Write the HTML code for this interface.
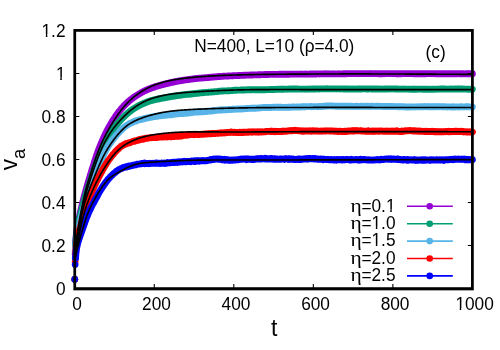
<!DOCTYPE html>
<html><head><meta charset="utf-8"><title>plot</title>
<style>html,body{margin:0;padding:0;background:#fff}svg{display:block}text{font-family:"Liberation Sans",sans-serif;fill:#000}</style>
</head><body>
<svg width="500" height="350" viewBox="0 0 500 350">
<rect width="500" height="350" fill="#fff"/>
<g><path d="M74.75,279.35 L75.15,252.02 L75.55,243.58" fill="none" stroke="#9400d3" stroke-width="1.6"/><circle cx="74.75" cy="279.35" r="3.35" fill="#9400d3"/><circle cx="75.15" cy="252.02" r="3.35" fill="#9400d3"/><circle cx="75.55" cy="243.58" r="3.35" fill="#9400d3"/><path d="M75.55,243.58 L75.94,238.52 L76.34,234.56 L76.74,231.43 L77.14,228.75 L77.53,226.35 L77.93,224.21 L78.33,222.14 L78.73,220.07 L79.12,218.11 L79.52,216.22 L79.92,214.41 L80.32,212.60 L80.71,210.83 L81.11,209.16 L81.51,207.45 L81.91,205.82 L82.31,204.17 L82.70,202.57 L83.10,200.94 L83.50,199.40 L83.90,197.83 L84.29,196.32 L84.69,194.83 L85.09,193.42 L85.49,191.92 L85.88,190.47 L86.28,189.05 L86.68,187.69 L87.08,186.28 L87.47,184.91 L87.87,183.55 L88.27,182.16 L88.67,180.86 L89.07,179.52 L89.46,178.16 L89.86,176.88 L90.26,175.56 L90.66,174.24 L91.05,172.93 L91.45,171.66 L91.85,170.32 L92.25,168.99 L92.64,167.77 L93.04,166.43 L93.44,165.17 L93.84,163.92 L94.23,162.59 L94.63,161.38 L95.03,160.20 L95.43,158.95 L95.83,157.73 L96.22,156.56 L96.62,155.38 L97.02,154.24 L97.42,153.09 L97.81,151.96 L98.21,150.92 L98.61,149.83 L99.01,148.79 L99.40,147.74 L99.80,146.75 L100.20,145.73 L100.60,144.74 L100.99,143.75 L101.39,142.79 L101.79,141.92 L102.19,140.99 L102.59,140.06 L102.98,139.23 L103.38,138.31 L103.78,137.44 L104.18,136.56 L104.57,135.73 L104.97,134.92 L105.37,134.10 L105.77,133.30 L106.16,132.45 L106.56,131.71 L106.96,130.93 L107.36,130.16 L107.75,129.41 L108.15,128.67 L108.55,127.95 L108.95,127.20 L109.35,126.49 L109.74,125.74 L110.14,125.05 L110.54,124.37 L110.94,123.68 L111.33,123.03 L111.73,122.33 L112.13,121.70 L112.53,121.04 L112.92,120.44 L113.32,119.77 L113.72,119.21 L114.12,118.60 L114.52,117.95 L114.91,117.37 L115.31,116.76 L115.71,116.13 L116.11,115.63 L116.50,115.06 L116.90,114.48 L117.30,113.93 L117.70,113.40 L118.09,112.87 L118.49,112.32 L118.89,111.81 L119.29,111.34 L119.68,110.81 L120.08,110.32 L120.48,109.85 L120.88,109.34 L121.28,108.89 L121.67,108.38 L122.07,107.94 L122.47,107.49 L122.87,107.06 L123.26,106.61 L123.66,106.23 L124.06,105.79 L124.46,105.33 L124.85,104.98 L125.25,104.51 L125.65,104.18 L126.05,103.74 L126.44,103.40 L126.84,102.99 L127.24,102.63 L127.64,102.31 L128.04,101.89 L128.43,101.53 L128.83,101.23 L129.23,100.90 L129.63,100.57 L130.02,100.26 L130.42,99.89 L130.82,99.62 L131.22,99.30 L131.61,99.01 L132.01,98.70 L132.41,98.42 L132.81,98.06 L133.20,97.81 L133.60,97.49 L134.00,97.23 L134.40,96.97 L134.80,96.68 L135.19,96.41 L135.59,96.12 L135.99,95.86 L136.39,95.60 L136.78,95.36 L137.18,95.09 L137.58,94.77 L137.98,94.58 L138.37,94.34 L138.77,94.06 L139.17,93.79 L139.57,93.62 L139.96,93.36 L140.36,93.13 L140.76,92.93 L141.16,92.64 L141.56,92.44 L141.95,92.22 L142.35,92.03 L142.75,91.79 L143.15,91.61 L143.54,91.40 L143.94,91.22 L144.34,91.03 L144.74,90.78 L145.13,90.64 L145.53,90.44 L145.93,90.27 L146.33,90.10 L146.72,89.93 L147.12,89.74 L147.52,89.59 L147.92,89.42 L148.32,89.25 L148.71,89.07 L149.11,88.92 L149.51,88.78 L149.91,88.65 L150.30,88.52 L150.70,88.31 L151.10,88.16 L151.50,88.04 L151.89,87.88 L152.29,87.73 L152.69,87.59 L153.09,87.45 L153.48,87.34 L153.88,87.16 L154.28,87.09 L154.68,86.90 L155.08,86.78 L155.47,86.64 L155.87,86.48 L156.27,86.36 L156.67,86.29 L157.06,86.18 L157.46,86.00 L157.86,85.93 L158.26,85.78 L158.65,85.65 L159.05,85.59 L159.45,85.49 L159.85,85.32 L160.24,85.22 L160.64,85.11 L161.04,84.99 L161.44,84.91 L161.84,84.82 L162.23,84.68 L162.63,84.60 L163.03,84.52 L163.43,84.37 L163.82,84.29 L164.22,84.19 L164.62,84.12 L165.02,84.02 L165.41,83.94 L165.81,83.84 L166.21,83.72 L166.61,83.65 L167.00,83.53 L167.40,83.44 L167.80,83.30 L168.20,83.29 L168.60,83.14 L168.99,83.07 L169.39,82.97 L169.79,82.92 L170.19,82.80 L170.58,82.68 L170.98,82.61 L171.38,82.51 L171.78,82.43 L172.17,82.31 L172.57,82.24 L172.97,82.21 L173.37,82.09 L173.76,82.03 L174.16,81.97 L174.56,81.82 L174.96,81.70 L175.36,81.64 L175.75,81.60 L176.15,81.51 L176.55,81.38 L176.95,81.33 L177.34,81.25 L177.74,81.18 L178.14,81.11 L178.54,81.02 L178.93,80.95 L179.33,80.89 L179.73,80.85 L180.13,80.75 L180.52,80.71 L180.92,80.60 L181.32,80.59 L181.72,80.50 L182.12,80.43 L182.51,80.41 L182.91,80.27 L183.31,80.21 L183.71,80.20 L184.10,80.11 L184.50,80.06 L184.90,80.08 L185.30,79.96 L185.69,79.91 L186.09,79.84 L186.49,79.82 L186.89,79.75 L187.28,79.69 L187.68,79.60 L188.08,79.57 L188.48,79.52 L188.88,79.44 L189.27,79.44 L189.67,79.37 L190.07,79.35 L190.47,79.22 L190.86,79.18 L191.26,79.13 L191.66,79.08 L192.06,79.04 L192.45,78.99 L192.85,78.95 L193.25,78.89 L193.65,78.83 L194.05,78.74 L194.44,78.72 L194.84,78.68 L195.24,78.64 L195.64,78.60 L196.03,78.49 L196.43,78.47 L196.83,78.44 L197.23,78.41 L197.62,78.39 L198.02,78.33 L198.42,78.27 L198.82,78.26 L199.21,78.22 L199.61,78.19 L200.01,78.15 L200.41,78.16 L200.81,78.09 L201.20,78.08 L201.60,78.00 L202.00,78.01 L202.40,77.95 L202.79,77.90 L203.19,77.91 L203.59,77.89 L203.99,77.84 L204.38,77.82 L204.78,77.81 L205.18,77.74 L205.58,77.66 L205.97,77.69 L206.37,77.65 L206.77,77.64 L207.17,77.57 L207.57,77.57 L207.96,77.53 L208.36,77.43 L208.76,77.45 L209.16,77.37 L209.55,77.32 L209.95,77.32 L210.35,77.27 L210.75,77.20 L211.14,77.22 L211.54,77.19 L211.94,77.17 L212.34,77.10 L212.73,77.03 L213.13,77.01 L213.53,77.02 L213.93,76.99 L214.33,76.94 L214.72,76.89 L215.12,76.87 L215.52,76.83 L215.92,76.79 L216.31,76.77 L216.71,76.72 L217.11,76.68 L217.51,76.65 L217.90,76.61 L218.30,76.54 L218.70,76.54 L219.10,76.52 L219.49,76.53 L219.89,76.45 L220.29,76.48 L220.69,76.44 L221.09,76.35 L221.48,76.33 L221.88,76.32 L222.28,76.34 L222.68,76.28 L223.07,76.26 L223.47,76.21 L223.87,76.15 L224.27,76.18 L224.66,76.18 L225.06,76.17 L225.46,76.12 L225.86,76.11 L226.25,76.11 L226.65,76.07 L227.05,76.08 L227.45,76.00 L227.85,75.98 L228.24,75.96 L228.64,75.98 L229.04,75.93 L229.44,75.93 L229.83,75.91 L230.23,75.88 L230.63,75.89 L231.03,75.87 L231.42,75.80 L231.82,75.80 L232.22,75.78 L232.62,75.74 L233.01,75.79 L233.41,75.75 L233.81,75.70 L234.21,75.68 L234.61,75.67 L235.00,75.62 L235.40,75.62 L235.80,75.64 L236.20,75.62 L236.59,75.56 L236.99,75.55 L237.39,75.60 L237.79,75.50 L238.18,75.50 L238.58,75.47 L238.98,75.50 L239.38,75.49 L239.77,75.49 L240.17,75.38 L240.57,75.43 L240.97,75.37 L241.37,75.41 L241.76,75.37 L242.16,75.40 L242.56,75.35 L242.96,75.30 L243.35,75.34 L243.75,75.26 L244.15,75.26 L244.55,75.27 L244.94,75.24 L245.34,75.22 L245.74,75.19 L246.14,75.19 L246.53,75.18 L246.93,75.15 L247.33,75.15 L247.73,75.14 L248.13,75.09 L248.52,75.05 L248.92,75.10 L249.32,75.05 L249.72,75.05 L250.11,75.04 L250.51,74.99 L250.91,75.01 L251.31,74.95 L251.70,75.00 L252.10,74.96 L252.50,74.96 L252.90,74.96 L253.29,74.92 L253.69,74.93 L254.09,74.90 L254.49,74.90 L254.89,74.92 L255.28,74.88 L255.68,74.86 L256.08,74.83 L256.48,74.87 L256.87,74.83 L257.27,74.86 L257.67,74.79 L258.07,74.82 L258.46,74.82 L258.86,74.76 L259.26,74.72 L259.66,74.77 L260.05,74.75 L260.45,74.73 L260.85,74.72 L261.25,74.67 L261.65,74.68 L262.04,74.66 L262.44,74.61 L262.84,74.63 L263.24,74.58 L263.63,74.60 L264.03,74.59 L264.43,74.59 L264.83,74.49 L265.22,74.53 L265.62,74.50 L266.02,74.49 L266.42,74.48 L266.81,74.47 L267.21,74.41 L267.61,74.47 L268.01,74.47 L268.41,74.45 L268.80,74.45 L269.20,74.39 L269.60,74.38 L270.00,74.42 L270.39,74.42 L270.79,74.39 L271.19,74.34 L271.59,74.44 L271.98,74.35 L272.38,74.39 L272.78,74.33 L273.18,74.38 L273.57,74.35 L273.97,74.38 L274.37,74.36 L274.77,74.30 L275.17,74.31 L275.56,74.33 L275.96,74.34 L276.36,74.36 L276.76,74.32 L277.15,74.30 L277.55,74.30 L277.95,74.30 L278.35,74.32 L278.74,74.29 L279.14,74.29 L279.54,74.25 L279.94,74.23 L280.34,74.28 L280.73,74.29 L281.13,74.27 L281.53,74.28 L281.93,74.28 L282.32,74.26 L282.72,74.29 L283.12,74.25 L283.52,74.26 L283.91,74.25 L284.31,74.26 L284.71,74.27 L285.11,74.27 L285.50,74.25 L285.90,74.25 L286.30,74.23 L286.70,74.23 L287.10,74.25 L287.49,74.21 L287.89,74.24 L288.29,74.21 L288.69,74.20 L289.08,74.24 L289.48,74.18 L289.88,74.17 L290.28,74.17 L290.67,74.17 L291.07,74.16 L291.47,74.17 L291.87,74.15 L292.26,74.15 L292.66,74.13 L293.06,74.15 L293.46,74.11 L293.86,74.11 L294.25,74.11 L294.65,74.11 L295.05,74.08 L295.45,74.13 L295.84,74.08 L296.24,74.08 L296.64,74.08 L297.04,74.08 L297.43,74.10 L297.83,74.09 L298.23,74.06 L298.63,74.07 L299.02,74.07 L299.42,74.11 L299.82,74.06 L300.22,74.04 L300.62,74.05 L301.01,74.07 L301.41,74.11 L301.81,74.05 L302.21,74.08 L302.60,74.13 L303.00,74.06 L303.40,74.11 L303.80,74.11 L304.19,74.09 L304.59,74.05 L304.99,74.09 L305.39,74.07 L305.78,74.03 L306.18,74.04 L306.58,74.08 L306.98,74.08 L307.38,74.10 L307.77,74.09 L308.17,74.06 L308.57,74.06 L308.97,74.06 L309.36,74.04 L309.76,74.08 L310.16,74.06 L310.56,74.03 L310.95,74.03 L311.35,74.01 L311.75,74.02 L312.15,74.03 L312.54,74.01 L312.94,74.04 L313.34,74.04 L313.74,73.99 L314.14,73.99 L314.53,73.98 L314.93,74.02 L315.33,73.98 L315.73,73.98 L316.12,73.98 L316.52,74.00 L316.92,73.95 L317.32,73.91 L317.71,73.91 L318.11,73.93 L318.51,73.90 L318.91,73.88 L319.30,73.96 L319.70,73.88 L320.10,73.86 L320.50,73.85 L320.90,73.82 L321.29,73.83 L321.69,73.84 L322.09,73.84 L322.49,73.82 L322.88,73.84 L323.28,73.83 L323.68,73.81 L324.08,73.78 L324.47,73.83 L324.87,73.82 L325.27,73.81 L325.67,73.79 L326.06,73.82 L326.46,73.78 L326.86,73.85 L327.26,73.83 L327.66,73.82 L328.05,73.80 L328.45,73.79 L328.85,73.86 L329.25,73.84 L329.64,73.81 L330.04,73.84 L330.44,73.86 L330.84,73.80 L331.23,73.81 L331.63,73.81 L332.03,73.83 L332.43,73.80 L332.82,73.83 L333.22,73.80 L333.62,73.85 L334.02,73.85 L334.42,73.83 L334.81,73.85 L335.21,73.82 L335.61,73.83 L336.01,73.86 L336.40,73.83 L336.80,73.84 L337.20,73.82 L337.60,73.86 L337.99,73.85 L338.39,73.81 L338.79,73.79 L339.19,73.80 L339.58,73.84 L339.98,73.84 L340.38,73.80 L340.78,73.84 L341.18,73.85 L341.57,73.82 L341.97,73.80 L342.37,73.83 L342.77,73.84 L343.16,73.82 L343.56,73.76 L343.96,73.79 L344.36,73.76 L344.75,73.74 L345.15,73.71 L345.55,73.72 L345.95,73.69 L346.34,73.72 L346.74,73.69 L347.14,73.70 L347.54,73.64 L347.94,73.66 L348.33,73.67 L348.73,73.66 L349.13,73.65 L349.53,73.62 L349.92,73.68 L350.32,73.66 L350.72,73.65 L351.12,73.58 L351.51,73.62 L351.91,73.66 L352.31,73.64 L352.71,73.61 L353.11,73.67 L353.50,73.68 L353.90,73.64 L354.30,73.66 L354.70,73.66 L355.09,73.69 L355.49,73.64 L355.89,73.64 L356.29,73.67 L356.68,73.67 L357.08,73.73 L357.48,73.66 L357.88,73.68 L358.27,73.66 L358.67,73.66 L359.07,73.67 L359.47,73.70 L359.87,73.65 L360.26,73.67 L360.66,73.65 L361.06,73.65 L361.46,73.64 L361.85,73.68 L362.25,73.59 L362.65,73.61 L363.05,73.58 L363.44,73.56 L363.84,73.61 L364.24,73.65 L364.64,73.62 L365.03,73.63 L365.43,73.61 L365.83,73.59 L366.23,73.64 L366.63,73.59 L367.02,73.63 L367.42,73.58 L367.82,73.59 L368.22,73.60 L368.61,73.59 L369.01,73.60 L369.41,73.60 L369.81,73.63 L370.20,73.59 L370.60,73.54 L371.00,73.55 L371.40,73.56 L371.79,73.58 L372.19,73.62 L372.59,73.57 L372.99,73.61 L373.39,73.62 L373.78,73.63 L374.18,73.62 L374.58,73.63 L374.98,73.63 L375.37,73.66 L375.77,73.65 L376.17,73.60 L376.57,73.67 L376.96,73.68 L377.36,73.67 L377.76,73.67 L378.16,73.72 L378.55,73.71 L378.95,73.68 L379.35,73.71 L379.75,73.72 L380.15,73.68 L380.54,73.74 L380.94,73.72 L381.34,73.74 L381.74,73.69 L382.13,73.77 L382.53,73.74 L382.93,73.73 L383.33,73.70 L383.72,73.69 L384.12,73.67 L384.52,73.73 L384.92,73.67 L385.31,73.69 L385.71,73.68 L386.11,73.65 L386.51,73.67 L386.91,73.69 L387.30,73.64 L387.70,73.66 L388.10,73.64 L388.50,73.61 L388.89,73.61 L389.29,73.57 L389.69,73.61 L390.09,73.64 L390.48,73.63 L390.88,73.64 L391.28,73.64 L391.68,73.61 L392.07,73.65 L392.47,73.69 L392.87,73.63 L393.27,73.66 L393.67,73.66 L394.06,73.67 L394.46,73.67 L394.86,73.69 L395.26,73.67 L395.65,73.70 L396.05,73.70 L396.45,73.71 L396.85,73.76 L397.24,73.73 L397.64,73.73 L398.04,73.72 L398.44,73.76 L398.83,73.69 L399.23,73.72 L399.63,73.75 L400.03,73.76 L400.43,73.72 L400.82,73.71 L401.22,73.72 L401.62,73.69 L402.02,73.70 L402.41,73.66 L402.81,73.68 L403.21,73.66 L403.61,73.62 L404.00,73.58 L404.40,73.66 L404.80,73.64 L405.20,73.65 L405.59,73.60 L405.99,73.65 L406.39,73.63 L406.79,73.62 L407.19,73.65 L407.58,73.64 L407.98,73.64 L408.38,73.67 L408.78,73.66 L409.17,73.64 L409.57,73.63 L409.97,73.64 L410.37,73.69 L410.76,73.66 L411.16,73.64 L411.56,73.65 L411.96,73.67 L412.35,73.70 L412.75,73.66 L413.15,73.70 L413.55,73.72 L413.95,73.71 L414.34,73.66 L414.74,73.70 L415.14,73.68 L415.54,73.73 L415.93,73.70 L416.33,73.74 L416.73,73.73 L417.13,73.67 L417.52,73.71 L417.92,73.74 L418.32,73.73 L418.72,73.72 L419.11,73.70 L419.51,73.75 L419.91,73.78 L420.31,73.74 L420.71,73.73 L421.10,73.73 L421.50,73.70 L421.90,73.73 L422.30,73.71 L422.69,73.75 L423.09,73.71 L423.49,73.68 L423.89,73.71 L424.28,73.72 L424.68,73.72 L425.08,73.67 L425.48,73.74 L425.87,73.71 L426.27,73.70 L426.67,73.68 L427.07,73.70 L427.47,73.68 L427.86,73.69 L428.26,73.68 L428.66,73.68 L429.06,73.70 L429.45,73.68 L429.85,73.65 L430.25,73.69 L430.65,73.68 L431.04,73.66 L431.44,73.70 L431.84,73.67 L432.24,73.70 L432.63,73.65 L433.03,73.63 L433.43,73.64 L433.83,73.70 L434.23,73.68 L434.62,73.70 L435.02,73.71 L435.42,73.68 L435.82,73.76 L436.21,73.71 L436.61,73.74 L437.01,73.71 L437.41,73.75 L437.80,73.78 L438.20,73.76 L438.60,73.76 L439.00,73.78 L439.40,73.77 L439.79,73.79 L440.19,73.84 L440.59,73.77 L440.99,73.77 L441.38,73.78 L441.78,73.78 L442.18,73.76 L442.58,73.79 L442.97,73.80 L443.37,73.79 L443.77,73.75 L444.17,73.81 L444.56,73.75 L444.96,73.80 L445.36,73.81 L445.76,73.74 L446.16,73.78 L446.55,73.80 L446.95,73.78 L447.35,73.75 L447.75,73.74 L448.14,73.78 L448.54,73.76 L448.94,73.76 L449.34,73.79 L449.73,73.76 L450.13,73.77 L450.53,73.78 L450.93,73.78 L451.32,73.76 L451.72,73.76 L452.12,73.77 L452.52,73.77 L452.92,73.73 L453.31,73.74 L453.71,73.72 L454.11,73.70 L454.51,73.72 L454.90,73.67 L455.30,73.74 L455.70,73.70 L456.10,73.73 L456.49,73.67 L456.89,73.67 L457.29,73.76 L457.69,73.74 L458.08,73.70 L458.48,73.69 L458.88,73.70 L459.28,73.72 L459.68,73.71 L460.07,73.71 L460.47,73.73 L460.87,73.71 L461.27,73.80 L461.66,73.74 L462.06,73.78 L462.46,73.74 L462.86,73.78 L463.25,73.80 L463.65,73.77 L464.05,73.81 L464.45,73.81 L464.84,73.83 L465.24,73.79 L465.64,73.78 L466.04,73.76 L466.44,73.79 L466.83,73.76 L467.23,73.79 L467.63,73.79 L468.03,73.77 L468.42,73.74 L468.82,73.77 L469.22,73.77 L469.62,73.76 L470.01,73.75 L470.41,73.77 L470.81,73.72 L471.21,73.75 L471.60,73.73 L472.00,73.75 L472.40,73.72" fill="none" stroke="#9400d3" stroke-width="6.85" stroke-linecap="round" stroke-linejoin="round"/><path d="M74.75,279.35 L75.15,254.17 L75.55,245.81" fill="none" stroke="#009e73" stroke-width="1.6"/><circle cx="74.75" cy="279.35" r="3.35" fill="#009e73"/><circle cx="75.15" cy="254.17" r="3.35" fill="#009e73"/><circle cx="75.55" cy="245.81" r="3.35" fill="#009e73"/><path d="M75.55,245.81 L75.94,240.86 L76.34,236.89 L76.74,233.87 L77.14,231.37 L77.53,229.03 L77.93,227.02 L78.33,225.06 L78.73,223.10 L79.12,221.19 L79.52,219.34 L79.92,217.58 L80.32,215.92 L80.71,214.32 L81.11,212.67 L81.51,211.08 L81.91,209.49 L82.31,208.01 L82.70,206.43 L83.10,204.92 L83.50,203.49 L83.90,202.04 L84.29,200.69 L84.69,199.32 L85.09,197.93 L85.49,196.51 L85.88,195.19 L86.28,193.94 L86.68,192.58 L87.08,191.36 L87.47,190.03 L87.87,188.81 L88.27,187.60 L88.67,186.31 L89.07,185.14 L89.46,183.92 L89.86,182.73 L90.26,181.45 L90.66,180.25 L91.05,179.05 L91.45,177.86 L91.85,176.59 L92.25,175.46 L92.64,174.29 L93.04,173.03 L93.44,171.84 L93.84,170.72 L94.23,169.64 L94.63,168.45 L95.03,167.25 L95.43,166.14 L95.83,164.97 L96.22,163.98 L96.62,162.81 L97.02,161.78 L97.42,160.64 L97.81,159.65 L98.21,158.57 L98.61,157.63 L99.01,156.67 L99.40,155.68 L99.80,154.70 L100.20,153.77 L100.60,152.76 L100.99,151.84 L101.39,150.98 L101.79,150.15 L102.19,149.25 L102.59,148.41 L102.98,147.48 L103.38,146.70 L103.78,145.88 L104.18,145.12 L104.57,144.38 L104.97,143.56 L105.37,142.80 L105.77,141.98 L106.16,141.25 L106.56,140.55 L106.96,139.81 L107.36,139.01 L107.75,138.40 L108.15,137.70 L108.55,136.98 L108.95,136.32 L109.35,135.64 L109.74,134.94 L110.14,134.24 L110.54,133.73 L110.94,133.03 L111.33,132.40 L111.73,131.78 L112.13,131.17 L112.53,130.57 L112.92,129.92 L113.32,129.39 L113.72,128.80 L114.12,128.23 L114.52,127.67 L114.91,127.12 L115.31,126.52 L115.71,126.02 L116.11,125.49 L116.50,124.97 L116.90,124.49 L117.30,123.98 L117.70,123.50 L118.09,122.97 L118.49,122.53 L118.89,122.08 L119.29,121.56 L119.68,121.09 L120.08,120.73 L120.48,120.16 L120.88,119.79 L121.28,119.38 L121.67,118.91 L122.07,118.54 L122.47,118.16 L122.87,117.65 L123.26,117.38 L123.66,116.95 L124.06,116.53 L124.46,116.22 L124.85,115.81 L125.25,115.42 L125.65,114.98 L126.05,114.74 L126.44,114.35 L126.84,113.96 L127.24,113.63 L127.64,113.34 L128.04,112.94 L128.43,112.61 L128.83,112.27 L129.23,111.92 L129.63,111.60 L130.02,111.31 L130.42,111.00 L130.82,110.75 L131.22,110.42 L131.61,110.11 L132.01,109.86 L132.41,109.55 L132.81,109.31 L133.20,108.95 L133.60,108.65 L134.00,108.49 L134.40,108.19 L134.80,107.97 L135.19,107.67 L135.59,107.46 L135.99,107.24 L136.39,107.02 L136.78,106.78 L137.18,106.60 L137.58,106.31 L137.98,106.15 L138.37,105.88 L138.77,105.68 L139.17,105.45 L139.57,105.29 L139.96,105.05 L140.36,104.93 L140.76,104.68 L141.16,104.52 L141.56,104.31 L141.95,104.13 L142.35,103.92 L142.75,103.85 L143.15,103.59 L143.54,103.49 L143.94,103.21 L144.34,103.16 L144.74,102.96 L145.13,102.82 L145.53,102.54 L145.93,102.49 L146.33,102.28 L146.72,102.15 L147.12,102.04 L147.52,101.84 L147.92,101.66 L148.32,101.54 L148.71,101.36 L149.11,101.27 L149.51,101.12 L149.91,101.01 L150.30,100.85 L150.70,100.66 L151.10,100.61 L151.50,100.49 L151.89,100.41 L152.29,100.31 L152.69,100.12 L153.09,100.12 L153.48,100.01 L153.88,99.89 L154.28,99.80 L154.68,99.62 L155.08,99.70 L155.47,99.50 L155.87,99.40 L156.27,99.39 L156.67,99.29 L157.06,99.17 L157.46,99.04 L157.86,99.06 L158.26,99.01 L158.65,98.84 L159.05,98.73 L159.45,98.73 L159.85,98.73 L160.24,98.52 L160.64,98.51 L161.04,98.38 L161.44,98.35 L161.84,98.28 L162.23,98.21 L162.63,98.06 L163.03,97.99 L163.43,98.05 L163.82,97.93 L164.22,97.76 L164.62,97.76 L165.02,97.73 L165.41,97.61 L165.81,97.54 L166.21,97.46 L166.61,97.41 L167.00,97.33 L167.40,97.26 L167.80,97.16 L168.20,97.12 L168.60,97.03 L168.99,96.96 L169.39,96.84 L169.79,96.80 L170.19,96.75 L170.58,96.66 L170.98,96.60 L171.38,96.50 L171.78,96.46 L172.17,96.35 L172.57,96.29 L172.97,96.28 L173.37,96.23 L173.76,96.11 L174.16,96.06 L174.56,96.02 L174.96,96.01 L175.36,95.96 L175.75,95.81 L176.15,95.73 L176.55,95.66 L176.95,95.68 L177.34,95.54 L177.74,95.54 L178.14,95.45 L178.54,95.39 L178.93,95.39 L179.33,95.32 L179.73,95.32 L180.13,95.23 L180.52,95.21 L180.92,95.07 L181.32,95.03 L181.72,94.94 L182.12,94.91 L182.51,94.91 L182.91,94.81 L183.31,94.80 L183.71,94.72 L184.10,94.69 L184.50,94.69 L184.90,94.61 L185.30,94.56 L185.69,94.53 L186.09,94.44 L186.49,94.37 L186.89,94.41 L187.28,94.36 L187.68,94.39 L188.08,94.27 L188.48,94.23 L188.88,94.26 L189.27,94.13 L189.67,94.08 L190.07,94.09 L190.47,94.04 L190.86,94.02 L191.26,93.90 L191.66,93.95 L192.06,93.87 L192.45,93.74 L192.85,93.77 L193.25,93.71 L193.65,93.69 L194.05,93.69 L194.44,93.60 L194.84,93.54 L195.24,93.55 L195.64,93.44 L196.03,93.36 L196.43,93.32 L196.83,93.38 L197.23,93.31 L197.62,93.29 L198.02,93.14 L198.42,93.11 L198.82,93.06 L199.21,93.07 L199.61,93.04 L200.01,92.94 L200.41,92.90 L200.81,92.90 L201.20,92.82 L201.60,92.76 L202.00,92.73 L202.40,92.74 L202.79,92.74 L203.19,92.63 L203.59,92.58 L203.99,92.57 L204.38,92.55 L204.78,92.53 L205.18,92.44 L205.58,92.44 L205.97,92.40 L206.37,92.41 L206.77,92.37 L207.17,92.31 L207.57,92.33 L207.96,92.30 L208.36,92.24 L208.76,92.16 L209.16,92.17 L209.55,92.09 L209.95,92.13 L210.35,92.11 L210.75,92.12 L211.14,92.07 L211.54,91.95 L211.94,91.97 L212.34,91.93 L212.73,91.90 L213.13,91.88 L213.53,91.86 L213.93,91.81 L214.33,91.76 L214.72,91.73 L215.12,91.69 L215.52,91.66 L215.92,91.65 L216.31,91.59 L216.71,91.58 L217.11,91.46 L217.51,91.54 L217.90,91.43 L218.30,91.28 L218.70,91.35 L219.10,91.34 L219.49,91.26 L219.89,91.17 L220.29,91.19 L220.69,91.12 L221.09,91.11 L221.48,91.10 L221.88,90.93 L222.28,91.02 L222.68,91.02 L223.07,90.99 L223.47,90.94 L223.87,90.92 L224.27,90.89 L224.66,90.90 L225.06,90.94 L225.46,90.85 L225.86,90.86 L226.25,90.84 L226.65,90.88 L227.05,90.83 L227.45,90.82 L227.85,90.78 L228.24,90.82 L228.64,90.74 L229.04,90.72 L229.44,90.75 L229.83,90.70 L230.23,90.69 L230.63,90.59 L231.03,90.69 L231.42,90.58 L231.82,90.60 L232.22,90.53 L232.62,90.44 L233.01,90.47 L233.41,90.42 L233.81,90.42 L234.21,90.28 L234.61,90.30 L235.00,90.26 L235.40,90.32 L235.80,90.29 L236.20,90.18 L236.59,90.21 L236.99,90.19 L237.39,90.15 L237.79,90.19 L238.18,90.10 L238.58,90.11 L238.98,90.08 L239.38,90.12 L239.77,90.07 L240.17,90.10 L240.57,90.02 L240.97,90.00 L241.37,90.00 L241.76,90.01 L242.16,89.99 L242.56,90.12 L242.96,89.98 L243.35,90.00 L243.75,89.98 L244.15,89.98 L244.55,90.01 L244.94,89.97 L245.34,89.90 L245.74,89.85 L246.14,89.92 L246.53,89.91 L246.93,89.80 L247.33,89.88 L247.73,89.76 L248.13,89.82 L248.52,89.84 L248.92,89.75 L249.32,89.71 L249.72,89.82 L250.11,89.70 L250.51,89.76 L250.91,89.69 L251.31,89.75 L251.70,89.79 L252.10,89.71 L252.50,89.69 L252.90,89.64 L253.29,89.66 L253.69,89.70 L254.09,89.74 L254.49,89.76 L254.89,89.75 L255.28,89.78 L255.68,89.76 L256.08,89.85 L256.48,89.75 L256.87,89.77 L257.27,89.67 L257.67,89.75 L258.07,89.80 L258.46,89.76 L258.86,89.83 L259.26,89.80 L259.66,89.85 L260.05,89.72 L260.45,89.75 L260.85,89.82 L261.25,89.77 L261.65,89.74 L262.04,89.75 L262.44,89.75 L262.84,89.79 L263.24,89.78 L263.63,89.74 L264.03,89.70 L264.43,89.77 L264.83,89.77 L265.22,89.67 L265.62,89.74 L266.02,89.65 L266.42,89.67 L266.81,89.64 L267.21,89.60 L267.61,89.64 L268.01,89.63 L268.41,89.68 L268.80,89.66 L269.20,89.59 L269.60,89.54 L270.00,89.54 L270.39,89.49 L270.79,89.55 L271.19,89.53 L271.59,89.48 L271.98,89.51 L272.38,89.50 L272.78,89.51 L273.18,89.41 L273.57,89.48 L273.97,89.40 L274.37,89.46 L274.77,89.35 L275.17,89.42 L275.56,89.33 L275.96,89.41 L276.36,89.35 L276.76,89.27 L277.15,89.34 L277.55,89.29 L277.95,89.30 L278.35,89.36 L278.74,89.25 L279.14,89.24 L279.54,89.29 L279.94,89.23 L280.34,89.27 L280.73,89.27 L281.13,89.22 L281.53,89.24 L281.93,89.12 L282.32,89.26 L282.72,89.17 L283.12,89.15 L283.52,89.25 L283.91,89.23 L284.31,89.13 L284.71,89.17 L285.11,89.12 L285.50,89.09 L285.90,89.14 L286.30,89.15 L286.70,89.21 L287.10,89.09 L287.49,89.13 L287.89,89.07 L288.29,89.06 L288.69,89.11 L289.08,88.99 L289.48,89.01 L289.88,89.00 L290.28,89.07 L290.67,89.04 L291.07,89.03 L291.47,89.03 L291.87,89.06 L292.26,88.99 L292.66,89.00 L293.06,88.99 L293.46,89.02 L293.86,88.95 L294.25,88.99 L294.65,89.11 L295.05,89.03 L295.45,89.01 L295.84,88.97 L296.24,89.02 L296.64,89.03 L297.04,89.06 L297.43,89.01 L297.83,89.06 L298.23,89.08 L298.63,89.09 L299.02,89.04 L299.42,89.09 L299.82,89.14 L300.22,89.06 L300.62,89.11 L301.01,89.08 L301.41,89.08 L301.81,89.05 L302.21,89.06 L302.60,89.13 L303.00,89.12 L303.40,89.17 L303.80,89.06 L304.19,89.11 L304.59,89.07 L304.99,89.14 L305.39,89.20 L305.78,89.07 L306.18,89.12 L306.58,89.11 L306.98,89.11 L307.38,89.09 L307.77,89.09 L308.17,89.16 L308.57,89.05 L308.97,89.11 L309.36,89.10 L309.76,89.01 L310.16,89.03 L310.56,89.08 L310.95,89.13 L311.35,89.05 L311.75,89.02 L312.15,89.04 L312.54,89.08 L312.94,89.04 L313.34,89.06 L313.74,88.99 L314.14,88.96 L314.53,88.94 L314.93,89.00 L315.33,88.95 L315.73,88.94 L316.12,88.97 L316.52,88.95 L316.92,88.86 L317.32,88.93 L317.71,88.90 L318.11,88.95 L318.51,88.92 L318.91,88.99 L319.30,88.93 L319.70,88.87 L320.10,88.83 L320.50,88.86 L320.90,88.87 L321.29,88.89 L321.69,88.91 L322.09,88.88 L322.49,88.85 L322.88,88.90 L323.28,88.83 L323.68,88.90 L324.08,88.93 L324.47,88.90 L324.87,88.92 L325.27,88.91 L325.67,88.80 L326.06,88.85 L326.46,88.83 L326.86,88.79 L327.26,88.79 L327.66,88.86 L328.05,88.79 L328.45,88.83 L328.85,88.85 L329.25,88.84 L329.64,88.91 L330.04,88.90 L330.44,88.88 L330.84,88.86 L331.23,88.89 L331.63,88.90 L332.03,88.86 L332.43,88.85 L332.82,88.88 L333.22,88.85 L333.62,88.92 L334.02,88.92 L334.42,88.90 L334.81,88.92 L335.21,88.93 L335.61,88.85 L336.01,88.92 L336.40,88.95 L336.80,88.90 L337.20,88.84 L337.60,88.91 L337.99,88.86 L338.39,88.92 L338.79,88.92 L339.19,88.93 L339.58,88.91 L339.98,88.83 L340.38,88.95 L340.78,88.84 L341.18,88.94 L341.57,88.92 L341.97,88.88 L342.37,88.88 L342.77,88.90 L343.16,88.99 L343.56,88.91 L343.96,88.97 L344.36,88.84 L344.75,88.95 L345.15,88.94 L345.55,89.00 L345.95,88.99 L346.34,89.03 L346.74,88.95 L347.14,89.01 L347.54,88.98 L347.94,89.03 L348.33,89.02 L348.73,88.96 L349.13,89.06 L349.53,89.10 L349.92,89.02 L350.32,89.08 L350.72,89.06 L351.12,89.02 L351.51,89.09 L351.91,89.03 L352.31,89.09 L352.71,89.01 L353.11,89.01 L353.50,89.09 L353.90,89.08 L354.30,89.10 L354.70,89.06 L355.09,89.02 L355.49,89.12 L355.89,89.03 L356.29,89.11 L356.68,89.09 L357.08,89.12 L357.48,88.96 L357.88,89.04 L358.27,89.02 L358.67,89.05 L359.07,88.97 L359.47,89.08 L359.87,88.99 L360.26,88.90 L360.66,88.98 L361.06,88.96 L361.46,88.92 L361.85,88.97 L362.25,88.93 L362.65,88.88 L363.05,88.91 L363.44,88.90 L363.84,88.92 L364.24,88.89 L364.64,88.90 L365.03,88.84 L365.43,88.87 L365.83,88.90 L366.23,88.99 L366.63,88.87 L367.02,88.87 L367.42,88.93 L367.82,88.98 L368.22,88.95 L368.61,88.87 L369.01,88.96 L369.41,88.94 L369.81,88.92 L370.20,88.88 L370.60,88.93 L371.00,88.94 L371.40,88.97 L371.79,88.88 L372.19,88.91 L372.59,88.96 L372.99,89.02 L373.39,89.00 L373.78,88.95 L374.18,89.01 L374.58,88.95 L374.98,88.97 L375.37,88.98 L375.77,88.98 L376.17,88.99 L376.57,89.06 L376.96,89.04 L377.36,88.95 L377.76,89.09 L378.16,89.07 L378.55,89.02 L378.95,89.07 L379.35,89.10 L379.75,89.13 L380.15,89.06 L380.54,89.04 L380.94,89.04 L381.34,89.09 L381.74,89.05 L382.13,89.12 L382.53,89.08 L382.93,89.11 L383.33,89.07 L383.72,89.04 L384.12,89.02 L384.52,89.09 L384.92,88.99 L385.31,89.05 L385.71,89.05 L386.11,89.01 L386.51,89.04 L386.91,88.97 L387.30,88.95 L387.70,88.96 L388.10,88.92 L388.50,88.95 L388.89,88.93 L389.29,88.97 L389.69,88.90 L390.09,88.94 L390.48,88.92 L390.88,88.90 L391.28,88.90 L391.68,88.97 L392.07,88.96 L392.47,88.92 L392.87,88.89 L393.27,88.91 L393.67,88.89 L394.06,88.89 L394.46,88.94 L394.86,88.97 L395.26,89.02 L395.65,89.03 L396.05,89.03 L396.45,89.01 L396.85,89.02 L397.24,89.04 L397.64,89.06 L398.04,89.04 L398.44,89.06 L398.83,89.06 L399.23,89.06 L399.63,89.10 L400.03,89.12 L400.43,89.07 L400.82,89.08 L401.22,89.11 L401.62,89.12 L402.02,89.01 L402.41,89.13 L402.81,89.11 L403.21,89.10 L403.61,89.16 L404.00,89.10 L404.40,89.04 L404.80,89.07 L405.20,89.09 L405.59,89.10 L405.99,89.12 L406.39,89.09 L406.79,89.14 L407.19,89.16 L407.58,89.14 L407.98,89.12 L408.38,89.16 L408.78,89.15 L409.17,89.26 L409.57,89.14 L409.97,89.11 L410.37,89.15 L410.76,89.22 L411.16,89.24 L411.56,89.20 L411.96,89.25 L412.35,89.18 L412.75,89.23 L413.15,89.18 L413.55,89.15 L413.95,89.28 L414.34,89.19 L414.74,89.22 L415.14,89.24 L415.54,89.21 L415.93,89.19 L416.33,89.14 L416.73,89.24 L417.13,89.14 L417.52,89.10 L417.92,89.15 L418.32,89.16 L418.72,89.18 L419.11,89.24 L419.51,89.17 L419.91,89.18 L420.31,89.17 L420.71,89.10 L421.10,89.18 L421.50,89.20 L421.90,89.16 L422.30,89.28 L422.69,89.28 L423.09,89.26 L423.49,89.27 L423.89,89.23 L424.28,89.27 L424.68,89.19 L425.08,89.21 L425.48,89.24 L425.87,89.29 L426.27,89.26 L426.67,89.25 L427.07,89.33 L427.47,89.28 L427.86,89.27 L428.26,89.29 L428.66,89.24 L429.06,89.26 L429.45,89.34 L429.85,89.30 L430.25,89.33 L430.65,89.27 L431.04,89.33 L431.44,89.25 L431.84,89.27 L432.24,89.24 L432.63,89.28 L433.03,89.32 L433.43,89.18 L433.83,89.25 L434.23,89.19 L434.62,89.22 L435.02,89.20 L435.42,89.13 L435.82,89.18 L436.21,89.13 L436.61,89.23 L437.01,89.12 L437.41,89.15 L437.80,89.13 L438.20,89.12 L438.60,89.09 L439.00,89.03 L439.40,89.16 L439.79,89.08 L440.19,89.10 L440.59,89.02 L440.99,89.07 L441.38,89.03 L441.78,89.06 L442.18,89.02 L442.58,89.00 L442.97,89.05 L443.37,89.03 L443.77,89.09 L444.17,89.02 L444.56,89.00 L444.96,89.06 L445.36,89.00 L445.76,89.13 L446.16,89.13 L446.55,89.12 L446.95,89.08 L447.35,89.06 L447.75,89.07 L448.14,89.07 L448.54,89.05 L448.94,89.10 L449.34,89.13 L449.73,89.13 L450.13,88.99 L450.53,89.17 L450.93,89.08 L451.32,89.03 L451.72,89.06 L452.12,89.11 L452.52,89.08 L452.92,89.05 L453.31,89.03 L453.71,89.11 L454.11,89.05 L454.51,89.06 L454.90,89.02 L455.30,89.00 L455.70,89.06 L456.10,89.09 L456.49,89.02 L456.89,88.96 L457.29,88.99 L457.69,89.01 L458.08,88.93 L458.48,89.06 L458.88,88.98 L459.28,89.03 L459.68,89.01 L460.07,89.00 L460.47,88.95 L460.87,89.04 L461.27,89.03 L461.66,89.07 L462.06,89.00 L462.46,89.04 L462.86,89.01 L463.25,89.08 L463.65,89.06 L464.05,89.02 L464.45,89.08 L464.84,89.06 L465.24,89.07 L465.64,89.12 L466.04,89.18 L466.44,89.09 L466.83,89.13 L467.23,89.11 L467.63,89.24 L468.03,89.24 L468.42,89.26 L468.82,89.22 L469.22,89.16 L469.62,89.19 L470.01,89.22 L470.41,89.22 L470.81,89.20 L471.21,89.25 L471.60,89.23 L472.00,89.24 L472.40,89.33" fill="none" stroke="#009e73" stroke-width="6.85" stroke-linecap="round" stroke-linejoin="round"/><path d="M74.75,279.35 L75.15,258.48 L75.55,250.31" fill="none" stroke="#56b4e9" stroke-width="1.6"/><circle cx="74.75" cy="279.35" r="3.35" fill="#56b4e9"/><circle cx="75.15" cy="258.48" r="3.35" fill="#56b4e9"/><circle cx="75.55" cy="250.31" r="3.35" fill="#56b4e9"/><path d="M75.55,250.31 L75.94,245.24 L76.34,241.23 L76.74,238.37 L77.14,235.79 L77.53,233.70 L77.93,231.76 L78.33,229.96 L78.73,228.00 L79.12,226.12 L79.52,224.46 L79.92,222.78 L80.32,221.05 L80.71,219.55 L81.11,217.86 L81.51,216.23 L81.91,214.77 L82.31,213.24 L82.70,211.68 L83.10,210.25 L83.50,208.82 L83.90,207.40 L84.29,206.04 L84.69,204.79 L85.09,203.47 L85.49,202.13 L85.88,200.84 L86.28,199.61 L86.68,198.56 L87.08,197.26 L87.47,196.12 L87.87,195.03 L88.27,193.86 L88.67,192.71 L89.07,191.54 L89.46,190.63 L89.86,189.43 L90.26,188.40 L90.66,187.33 L91.05,186.17 L91.45,185.12 L91.85,184.19 L92.25,183.07 L92.64,181.98 L93.04,181.04 L93.44,179.83 L93.84,178.86 L94.23,177.80 L94.63,176.74 L95.03,175.59 L95.43,174.67 L95.83,173.66 L96.22,172.49 L96.62,171.60 L97.02,170.58 L97.42,169.61 L97.81,168.44 L98.21,167.48 L98.61,166.46 L99.01,165.47 L99.40,164.51 L99.80,163.58 L100.20,162.60 L100.60,161.56 L100.99,160.64 L101.39,159.59 L101.79,158.84 L102.19,157.91 L102.59,157.06 L102.98,156.03 L103.38,155.35 L103.78,154.37 L104.18,153.52 L104.57,152.81 L104.97,151.98 L105.37,151.39 L105.77,150.52 L106.16,149.88 L106.56,149.03 L106.96,148.34 L107.36,147.70 L107.75,146.92 L108.15,146.30 L108.55,145.72 L108.95,145.09 L109.35,144.53 L109.74,143.86 L110.14,143.12 L110.54,142.72 L110.94,142.08 L111.33,141.59 L111.73,140.95 L112.13,140.43 L112.53,139.95 L112.92,139.53 L113.32,138.93 L113.72,138.31 L114.12,137.91 L114.52,137.36 L114.91,136.96 L115.31,136.58 L115.71,135.96 L116.11,135.50 L116.50,135.09 L116.90,134.62 L117.30,134.13 L117.70,133.75 L118.09,133.24 L118.49,132.84 L118.89,132.55 L119.29,131.97 L119.68,131.59 L120.08,131.19 L120.48,130.69 L120.88,130.35 L121.28,129.90 L121.67,129.48 L122.07,129.16 L122.47,128.90 L122.87,128.49 L123.26,128.02 L123.66,127.77 L124.06,127.46 L124.46,127.09 L124.85,126.74 L125.25,126.45 L125.65,126.13 L126.05,125.94 L126.44,125.62 L126.84,125.37 L127.24,125.09 L127.64,124.98 L128.04,124.61 L128.43,124.45 L128.83,124.04 L129.23,123.82 L129.63,123.59 L130.02,123.42 L130.42,123.32 L130.82,123.02 L131.22,122.90 L131.61,122.66 L132.01,122.58 L132.41,122.38 L132.81,122.14 L133.20,121.87 L133.60,121.82 L134.00,121.50 L134.40,121.30 L134.80,121.42 L135.19,121.18 L135.59,121.10 L135.99,120.90 L136.39,120.78 L136.78,120.61 L137.18,120.41 L137.58,120.27 L137.98,120.19 L138.37,120.09 L138.77,119.95 L139.17,119.83 L139.57,119.68 L139.96,119.61 L140.36,119.48 L140.76,119.49 L141.16,119.24 L141.56,119.09 L141.95,119.10 L142.35,119.11 L142.75,118.84 L143.15,118.86 L143.54,118.95 L143.94,118.67 L144.34,118.53 L144.74,118.45 L145.13,118.30 L145.53,118.25 L145.93,118.20 L146.33,118.24 L146.72,118.09 L147.12,117.92 L147.52,117.81 L147.92,117.83 L148.32,117.73 L148.71,117.57 L149.11,117.65 L149.51,117.57 L149.91,117.36 L150.30,117.26 L150.70,117.24 L151.10,117.28 L151.50,117.06 L151.89,117.07 L152.29,116.87 L152.69,116.85 L153.09,116.76 L153.48,116.68 L153.88,116.69 L154.28,116.55 L154.68,116.46 L155.08,116.48 L155.47,116.36 L155.87,116.44 L156.27,116.27 L156.67,116.26 L157.06,116.29 L157.46,116.16 L157.86,116.14 L158.26,116.09 L158.65,116.00 L159.05,115.87 L159.45,115.92 L159.85,115.83 L160.24,115.89 L160.64,115.73 L161.04,115.62 L161.44,115.59 L161.84,115.56 L162.23,115.58 L162.63,115.56 L163.03,115.44 L163.43,115.48 L163.82,115.42 L164.22,115.24 L164.62,115.32 L165.02,115.09 L165.41,115.27 L165.81,115.11 L166.21,115.19 L166.61,115.06 L167.00,115.09 L167.40,114.99 L167.80,114.96 L168.20,114.95 L168.60,114.85 L168.99,114.75 L169.39,114.85 L169.79,114.71 L170.19,114.72 L170.58,114.68 L170.98,114.49 L171.38,114.74 L171.78,114.59 L172.17,114.62 L172.57,114.48 L172.97,114.43 L173.37,114.12 L173.76,114.29 L174.16,114.14 L174.56,114.12 L174.96,114.17 L175.36,114.06 L175.75,113.93 L176.15,113.98 L176.55,113.92 L176.95,113.86 L177.34,113.94 L177.74,113.84 L178.14,113.72 L178.54,113.67 L178.93,113.73 L179.33,113.64 L179.73,113.60 L180.13,113.57 L180.52,113.47 L180.92,113.47 L181.32,113.45 L181.72,113.52 L182.12,113.47 L182.51,113.35 L182.91,113.46 L183.31,113.32 L183.71,113.35 L184.10,113.33 L184.50,113.21 L184.90,113.27 L185.30,113.26 L185.69,113.23 L186.09,113.14 L186.49,112.91 L186.89,113.20 L187.28,113.02 L187.68,112.99 L188.08,112.87 L188.48,112.92 L188.88,113.02 L189.27,112.71 L189.67,112.83 L190.07,112.71 L190.47,112.75 L190.86,112.68 L191.26,112.59 L191.66,112.44 L192.06,112.40 L192.45,112.45 L192.85,112.33 L193.25,112.34 L193.65,112.26 L194.05,112.21 L194.44,112.14 L194.84,112.18 L195.24,112.11 L195.64,112.07 L196.03,112.04 L196.43,112.07 L196.83,111.88 L197.23,112.00 L197.62,111.89 L198.02,111.91 L198.42,111.82 L198.82,112.02 L199.21,111.71 L199.61,111.85 L200.01,111.90 L200.41,111.78 L200.81,111.62 L201.20,111.71 L201.60,111.82 L202.00,111.75 L202.40,111.62 L202.79,111.78 L203.19,111.66 L203.59,111.65 L203.99,111.45 L204.38,111.57 L204.78,111.43 L205.18,111.53 L205.58,111.51 L205.97,111.36 L206.37,111.36 L206.77,111.48 L207.17,111.28 L207.57,111.24 L207.96,111.29 L208.36,111.18 L208.76,111.14 L209.16,111.14 L209.55,111.12 L209.95,111.10 L210.35,111.03 L210.75,111.06 L211.14,110.93 L211.54,110.98 L211.94,110.82 L212.34,110.80 L212.73,110.82 L213.13,110.64 L213.53,110.53 L213.93,110.52 L214.33,110.66 L214.72,110.44 L215.12,110.47 L215.52,110.44 L215.92,110.43 L216.31,110.34 L216.71,110.21 L217.11,110.23 L217.51,110.25 L217.90,110.22 L218.30,110.17 L218.70,110.06 L219.10,109.95 L219.49,110.11 L219.89,110.01 L220.29,110.02 L220.69,110.02 L221.09,109.92 L221.48,109.88 L221.88,109.99 L222.28,109.94 L222.68,109.77 L223.07,109.81 L223.47,109.79 L223.87,109.85 L224.27,109.83 L224.66,109.75 L225.06,109.79 L225.46,109.82 L225.86,109.72 L226.25,109.64 L226.65,109.76 L227.05,109.59 L227.45,109.59 L227.85,109.67 L228.24,109.59 L228.64,109.56 L229.04,109.48 L229.44,109.47 L229.83,109.58 L230.23,109.55 L230.63,109.36 L231.03,109.39 L231.42,109.33 L231.82,109.31 L232.22,109.20 L232.62,109.36 L233.01,109.18 L233.41,109.28 L233.81,109.15 L234.21,109.08 L234.61,109.23 L235.00,109.08 L235.40,109.12 L235.80,109.11 L236.20,109.07 L236.59,109.13 L236.99,109.12 L237.39,109.01 L237.79,108.99 L238.18,109.06 L238.58,109.11 L238.98,108.85 L239.38,108.93 L239.77,108.96 L240.17,109.04 L240.57,109.00 L240.97,108.93 L241.37,108.99 L241.76,108.80 L242.16,108.88 L242.56,108.83 L242.96,108.89 L243.35,108.86 L243.75,108.83 L244.15,108.72 L244.55,108.73 L244.94,108.70 L245.34,108.62 L245.74,108.58 L246.14,108.47 L246.53,108.54 L246.93,108.56 L247.33,108.47 L247.73,108.34 L248.13,108.45 L248.52,108.38 L248.92,108.39 L249.32,108.31 L249.72,108.30 L250.11,108.37 L250.51,108.32 L250.91,108.23 L251.31,108.22 L251.70,108.22 L252.10,108.21 L252.50,108.28 L252.90,108.27 L253.29,108.18 L253.69,108.31 L254.09,108.23 L254.49,108.34 L254.89,108.23 L255.28,108.23 L255.68,108.24 L256.08,108.11 L256.48,108.17 L256.87,108.11 L257.27,108.09 L257.67,108.09 L258.07,107.91 L258.46,108.01 L258.86,107.93 L259.26,108.00 L259.66,107.91 L260.05,107.86 L260.45,107.83 L260.85,107.80 L261.25,107.73 L261.65,107.60 L262.04,107.69 L262.44,107.67 L262.84,107.66 L263.24,107.44 L263.63,107.48 L264.03,107.53 L264.43,107.50 L264.83,107.59 L265.22,107.54 L265.62,107.51 L266.02,107.51 L266.42,107.56 L266.81,107.55 L267.21,107.46 L267.61,107.46 L268.01,107.62 L268.41,107.46 L268.80,107.39 L269.20,107.51 L269.60,107.44 L270.00,107.54 L270.39,107.38 L270.79,107.51 L271.19,107.50 L271.59,107.43 L271.98,107.23 L272.38,107.41 L272.78,107.44 L273.18,107.31 L273.57,107.30 L273.97,107.19 L274.37,107.37 L274.77,107.38 L275.17,107.29 L275.56,107.23 L275.96,107.22 L276.36,107.16 L276.76,107.32 L277.15,107.28 L277.55,107.23 L277.95,107.16 L278.35,107.19 L278.74,107.25 L279.14,107.29 L279.54,107.18 L279.94,107.18 L280.34,107.07 L280.73,107.28 L281.13,107.17 L281.53,107.36 L281.93,107.32 L282.32,107.34 L282.72,107.34 L283.12,107.37 L283.52,107.37 L283.91,107.35 L284.31,107.38 L284.71,107.31 L285.11,107.36 L285.50,107.36 L285.90,107.26 L286.30,107.34 L286.70,107.34 L287.10,107.35 L287.49,107.34 L287.89,107.29 L288.29,107.36 L288.69,107.22 L289.08,107.17 L289.48,107.18 L289.88,107.28 L290.28,107.33 L290.67,107.23 L291.07,107.18 L291.47,107.13 L291.87,107.19 L292.26,107.18 L292.66,107.04 L293.06,107.17 L293.46,107.04 L293.86,107.04 L294.25,107.17 L294.65,107.05 L295.05,107.10 L295.45,107.11 L295.84,107.16 L296.24,107.14 L296.64,107.01 L297.04,107.05 L297.43,107.01 L297.83,107.08 L298.23,107.03 L298.63,107.01 L299.02,107.09 L299.42,107.08 L299.82,106.92 L300.22,106.92 L300.62,106.98 L301.01,106.90 L301.41,106.83 L301.81,106.73 L302.21,106.88 L302.60,106.77 L303.00,106.65 L303.40,106.77 L303.80,106.66 L304.19,106.93 L304.59,106.64 L304.99,106.71 L305.39,106.82 L305.78,106.62 L306.18,106.59 L306.58,106.57 L306.98,106.57 L307.38,106.63 L307.77,106.67 L308.17,106.64 L308.57,106.61 L308.97,106.59 L309.36,106.64 L309.76,106.61 L310.16,106.56 L310.56,106.60 L310.95,106.46 L311.35,106.47 L311.75,106.70 L312.15,106.65 L312.54,106.70 L312.94,106.69 L313.34,106.58 L313.74,106.68 L314.14,106.70 L314.53,106.64 L314.93,106.58 L315.33,106.66 L315.73,106.66 L316.12,106.57 L316.52,106.61 L316.92,106.60 L317.32,106.57 L317.71,106.70 L318.11,106.61 L318.51,106.65 L318.91,106.51 L319.30,106.51 L319.70,106.62 L320.10,106.44 L320.50,106.58 L320.90,106.40 L321.29,106.44 L321.69,106.48 L322.09,106.47 L322.49,106.38 L322.88,106.32 L323.28,106.32 L323.68,106.20 L324.08,106.29 L324.47,106.16 L324.87,106.13 L325.27,106.21 L325.67,106.03 L326.06,106.10 L326.46,106.16 L326.86,106.01 L327.26,105.96 L327.66,105.87 L328.05,105.95 L328.45,105.81 L328.85,105.81 L329.25,105.83 L329.64,105.82 L330.04,105.89 L330.44,105.95 L330.84,105.88 L331.23,105.88 L331.63,105.95 L332.03,106.01 L332.43,106.12 L332.82,106.00 L333.22,106.05 L333.62,106.19 L334.02,106.12 L334.42,106.09 L334.81,106.18 L335.21,106.15 L335.61,106.17 L336.01,106.34 L336.40,106.27 L336.80,106.25 L337.20,106.23 L337.60,106.20 L337.99,106.43 L338.39,106.31 L338.79,106.27 L339.19,106.23 L339.58,106.20 L339.98,106.37 L340.38,106.33 L340.78,106.36 L341.18,106.22 L341.57,106.37 L341.97,106.19 L342.37,106.21 L342.77,106.22 L343.16,106.40 L343.56,106.30 L343.96,106.20 L344.36,106.34 L344.75,106.26 L345.15,106.25 L345.55,106.19 L345.95,106.24 L346.34,106.25 L346.74,106.30 L347.14,106.28 L347.54,106.30 L347.94,106.25 L348.33,106.32 L348.73,106.25 L349.13,106.44 L349.53,106.25 L349.92,106.33 L350.32,106.25 L350.72,106.33 L351.12,106.29 L351.51,106.25 L351.91,106.39 L352.31,106.34 L352.71,106.36 L353.11,106.33 L353.50,106.45 L353.90,106.37 L354.30,106.37 L354.70,106.40 L355.09,106.36 L355.49,106.45 L355.89,106.24 L356.29,106.31 L356.68,106.22 L357.08,106.40 L357.48,106.43 L357.88,106.32 L358.27,106.45 L358.67,106.32 L359.07,106.39 L359.47,106.36 L359.87,106.32 L360.26,106.35 L360.66,106.22 L361.06,106.31 L361.46,106.43 L361.85,106.28 L362.25,106.42 L362.65,106.33 L363.05,106.42 L363.44,106.39 L363.84,106.25 L364.24,106.37 L364.64,106.37 L365.03,106.36 L365.43,106.35 L365.83,106.23 L366.23,106.41 L366.63,106.41 L367.02,106.28 L367.42,106.41 L367.82,106.33 L368.22,106.23 L368.61,106.30 L369.01,106.33 L369.41,106.34 L369.81,106.35 L370.20,106.33 L370.60,106.29 L371.00,106.21 L371.40,106.23 L371.79,106.34 L372.19,106.35 L372.59,106.25 L372.99,106.41 L373.39,106.31 L373.78,106.30 L374.18,106.36 L374.58,106.36 L374.98,106.27 L375.37,106.39 L375.77,106.35 L376.17,106.34 L376.57,106.30 L376.96,106.41 L377.36,106.25 L377.76,106.36 L378.16,106.36 L378.55,106.37 L378.95,106.40 L379.35,106.43 L379.75,106.29 L380.15,106.35 L380.54,106.38 L380.94,106.32 L381.34,106.44 L381.74,106.36 L382.13,106.42 L382.53,106.48 L382.93,106.39 L383.33,106.56 L383.72,106.42 L384.12,106.52 L384.52,106.44 L384.92,106.37 L385.31,106.43 L385.71,106.51 L386.11,106.47 L386.51,106.47 L386.91,106.53 L387.30,106.53 L387.70,106.45 L388.10,106.41 L388.50,106.57 L388.89,106.46 L389.29,106.42 L389.69,106.46 L390.09,106.54 L390.48,106.40 L390.88,106.55 L391.28,106.43 L391.68,106.38 L392.07,106.62 L392.47,106.48 L392.87,106.49 L393.27,106.51 L393.67,106.58 L394.06,106.56 L394.46,106.64 L394.86,106.55 L395.26,106.54 L395.65,106.62 L396.05,106.65 L396.45,106.63 L396.85,106.62 L397.24,106.62 L397.64,106.64 L398.04,106.64 L398.44,106.73 L398.83,106.83 L399.23,106.62 L399.63,106.58 L400.03,106.78 L400.43,106.74 L400.82,106.69 L401.22,106.67 L401.62,106.69 L402.02,106.66 L402.41,106.77 L402.81,106.77 L403.21,106.77 L403.61,106.84 L404.00,106.75 L404.40,106.80 L404.80,106.79 L405.20,106.90 L405.59,106.82 L405.99,106.97 L406.39,106.88 L406.79,107.10 L407.19,107.01 L407.58,106.91 L407.98,106.99 L408.38,106.95 L408.78,107.07 L409.17,106.85 L409.57,106.91 L409.97,106.96 L410.37,106.93 L410.76,106.94 L411.16,106.86 L411.56,106.92 L411.96,107.03 L412.35,106.94 L412.75,106.82 L413.15,106.85 L413.55,106.91 L413.95,106.84 L414.34,106.86 L414.74,106.82 L415.14,106.96 L415.54,106.92 L415.93,106.81 L416.33,106.86 L416.73,106.81 L417.13,106.71 L417.52,106.84 L417.92,106.80 L418.32,106.84 L418.72,106.84 L419.11,106.79 L419.51,106.88 L419.91,106.91 L420.31,106.66 L420.71,106.75 L421.10,106.66 L421.50,106.72 L421.90,106.71 L422.30,106.66 L422.69,106.66 L423.09,106.77 L423.49,106.61 L423.89,106.74 L424.28,106.66 L424.68,106.51 L425.08,106.66 L425.48,106.56 L425.87,106.70 L426.27,106.63 L426.67,106.67 L427.07,106.64 L427.47,106.73 L427.86,106.74 L428.26,106.67 L428.66,106.81 L429.06,106.77 L429.45,106.69 L429.85,106.78 L430.25,106.80 L430.65,106.82 L431.04,106.75 L431.44,106.77 L431.84,106.73 L432.24,106.74 L432.63,106.60 L433.03,106.75 L433.43,106.85 L433.83,106.70 L434.23,106.71 L434.62,106.69 L435.02,106.80 L435.42,106.61 L435.82,106.67 L436.21,106.67 L436.61,106.76 L437.01,106.61 L437.41,106.64 L437.80,106.54 L438.20,106.65 L438.60,106.71 L439.00,106.63 L439.40,106.69 L439.79,106.60 L440.19,106.72 L440.59,106.67 L440.99,106.69 L441.38,106.68 L441.78,106.73 L442.18,106.76 L442.58,106.72 L442.97,106.77 L443.37,106.75 L443.77,106.80 L444.17,106.94 L444.56,106.80 L444.96,106.71 L445.36,106.81 L445.76,106.79 L446.16,106.81 L446.55,106.89 L446.95,106.96 L447.35,106.83 L447.75,106.83 L448.14,106.87 L448.54,106.90 L448.94,106.92 L449.34,106.94 L449.73,106.92 L450.13,106.93 L450.53,106.91 L450.93,106.99 L451.32,106.96 L451.72,106.88 L452.12,106.94 L452.52,107.07 L452.92,106.90 L453.31,107.07 L453.71,106.79 L454.11,106.86 L454.51,106.86 L454.90,106.95 L455.30,106.97 L455.70,106.91 L456.10,106.89 L456.49,106.94 L456.89,106.87 L457.29,106.84 L457.69,106.86 L458.08,106.95 L458.48,107.03 L458.88,106.89 L459.28,106.94 L459.68,106.85 L460.07,106.78 L460.47,106.79 L460.87,106.88 L461.27,106.82 L461.66,106.77 L462.06,106.87 L462.46,106.85 L462.86,106.81 L463.25,106.85 L463.65,106.87 L464.05,106.88 L464.45,106.83 L464.84,106.87 L465.24,106.77 L465.64,106.84 L466.04,106.73 L466.44,106.75 L466.83,106.91 L467.23,106.77 L467.63,106.88 L468.03,106.76 L468.42,106.82 L468.82,106.86 L469.22,106.82 L469.62,106.90 L470.01,106.85 L470.41,106.86 L470.81,106.91 L471.21,106.88 L471.60,106.97 L472.00,106.87 L472.40,106.99" fill="none" stroke="#56b4e9" stroke-width="6.85" stroke-linecap="round" stroke-linejoin="round"/><path d="M74.75,279.35 L75.15,261.70 L75.55,254.15" fill="none" stroke="#ff0000" stroke-width="1.6"/><circle cx="74.75" cy="279.35" r="3.35" fill="#ff0000"/><circle cx="75.15" cy="261.70" r="3.35" fill="#ff0000"/><circle cx="75.55" cy="254.15" r="3.35" fill="#ff0000"/><path d="M75.55,254.15 L75.94,249.08 L76.34,245.23 L76.74,242.68 L77.14,240.45 L77.53,238.70 L77.93,236.68 L78.33,235.19 L78.73,233.42 L79.12,231.85 L79.52,230.16 L79.92,228.76 L80.32,227.30 L80.71,225.87 L81.11,224.19 L81.51,222.79 L81.91,221.13 L82.31,219.58 L82.70,218.54 L83.10,217.03 L83.50,215.48 L83.90,214.02 L84.29,212.80 L84.69,211.49 L85.09,210.21 L85.49,209.00 L85.88,207.69 L86.28,206.63 L86.68,205.68 L87.08,204.48 L87.47,203.29 L87.87,202.29 L88.27,201.15 L88.67,200.11 L89.07,199.07 L89.46,197.89 L89.86,196.95 L90.26,195.99 L90.66,194.92 L91.05,193.85 L91.45,192.64 L91.85,191.86 L92.25,190.77 L92.64,189.94 L93.04,189.29 L93.44,188.09 L93.84,187.32 L94.23,186.49 L94.63,185.59 L95.03,184.43 L95.43,183.94 L95.83,183.01 L96.22,181.99 L96.62,181.23 L97.02,180.67 L97.42,179.70 L97.81,178.96 L98.21,178.14 L98.61,177.27 L99.01,176.66 L99.40,175.86 L99.80,174.94 L100.20,174.55 L100.60,173.65 L100.99,172.82 L101.39,172.27 L101.79,171.47 L102.19,170.81 L102.59,169.94 L102.98,169.32 L103.38,168.47 L103.78,167.77 L104.18,167.20 L104.57,166.56 L104.97,165.84 L105.37,165.19 L105.77,164.68 L106.16,163.80 L106.56,163.28 L106.96,162.61 L107.36,162.23 L107.75,161.40 L108.15,160.68 L108.55,160.26 L108.95,159.92 L109.35,159.21 L109.74,158.69 L110.14,158.11 L110.54,157.64 L110.94,157.03 L111.33,156.63 L111.73,156.07 L112.13,155.68 L112.53,155.10 L112.92,154.53 L113.32,154.21 L113.72,153.62 L114.12,153.32 L114.52,152.81 L114.91,152.33 L115.31,151.73 L115.71,151.52 L116.11,150.88 L116.50,150.75 L116.90,150.20 L117.30,149.69 L117.70,149.32 L118.09,149.13 L118.49,148.79 L118.89,148.19 L119.29,148.07 L119.68,147.51 L120.08,147.30 L120.48,146.94 L120.88,146.39 L121.28,146.18 L121.67,145.99 L122.07,145.97 L122.47,145.54 L122.87,145.34 L123.26,145.14 L123.66,144.77 L124.06,144.88 L124.46,144.47 L124.85,144.31 L125.25,144.22 L125.65,143.79 L126.05,143.96 L126.44,143.67 L126.84,143.52 L127.24,143.63 L127.64,143.39 L128.04,143.20 L128.43,142.89 L128.83,142.74 L129.23,142.66 L129.63,142.58 L130.02,142.72 L130.42,142.34 L130.82,142.29 L131.22,141.99 L131.61,141.85 L132.01,141.63 L132.41,141.67 L132.81,141.54 L133.20,141.61 L133.60,141.38 L134.00,141.41 L134.40,141.05 L134.80,141.16 L135.19,140.94 L135.59,140.88 L135.99,140.73 L136.39,140.51 L136.78,140.51 L137.18,140.30 L137.58,140.33 L137.98,139.98 L138.37,140.08 L138.77,139.80 L139.17,139.57 L139.57,139.95 L139.96,139.70 L140.36,139.53 L140.76,139.28 L141.16,139.38 L141.56,139.20 L141.95,139.23 L142.35,139.01 L142.75,139.12 L143.15,138.82 L143.54,139.15 L143.94,138.95 L144.34,138.47 L144.74,138.56 L145.13,138.60 L145.53,138.18 L145.93,138.26 L146.33,138.18 L146.72,138.28 L147.12,138.10 L147.52,138.07 L147.92,138.24 L148.32,137.94 L148.71,137.97 L149.11,137.77 L149.51,137.71 L149.91,137.87 L150.30,137.83 L150.70,137.72 L151.10,137.61 L151.50,137.67 L151.89,137.62 L152.29,137.50 L152.69,137.50 L153.09,137.40 L153.48,137.47 L153.88,137.57 L154.28,137.65 L154.68,137.34 L155.08,137.44 L155.47,137.43 L155.87,137.39 L156.27,137.52 L156.67,137.38 L157.06,137.58 L157.46,137.31 L157.86,137.35 L158.26,137.01 L158.65,137.13 L159.05,137.18 L159.45,137.10 L159.85,137.03 L160.24,137.17 L160.64,137.08 L161.04,137.06 L161.44,136.71 L161.84,136.94 L162.23,137.14 L162.63,136.82 L163.03,136.59 L163.43,136.94 L163.82,136.43 L164.22,136.80 L164.62,136.67 L165.02,136.81 L165.41,136.76 L165.81,136.87 L166.21,136.85 L166.61,136.96 L167.00,136.57 L167.40,136.82 L167.80,136.66 L168.20,136.64 L168.60,136.74 L168.99,136.65 L169.39,136.66 L169.79,136.70 L170.19,136.63 L170.58,136.62 L170.98,136.75 L171.38,136.76 L171.78,136.69 L172.17,136.58 L172.57,136.45 L172.97,136.43 L173.37,136.54 L173.76,136.43 L174.16,136.48 L174.56,136.34 L174.96,136.42 L175.36,136.35 L175.75,136.39 L176.15,136.31 L176.55,136.06 L176.95,136.35 L177.34,136.18 L177.74,136.21 L178.14,135.99 L178.54,135.84 L178.93,136.02 L179.33,136.24 L179.73,135.83 L180.13,135.78 L180.52,135.99 L180.92,135.77 L181.32,135.70 L181.72,135.90 L182.12,135.53 L182.51,135.48 L182.91,135.44 L183.31,135.53 L183.71,135.43 L184.10,135.38 L184.50,135.21 L184.90,135.32 L185.30,134.99 L185.69,135.08 L186.09,135.31 L186.49,134.84 L186.89,134.94 L187.28,134.97 L187.68,134.85 L188.08,135.03 L188.48,134.75 L188.88,135.00 L189.27,134.80 L189.67,134.49 L190.07,134.48 L190.47,134.63 L190.86,134.68 L191.26,134.44 L191.66,134.54 L192.06,134.47 L192.45,134.41 L192.85,134.59 L193.25,134.36 L193.65,134.66 L194.05,134.26 L194.44,134.57 L194.84,134.46 L195.24,134.46 L195.64,134.31 L196.03,134.28 L196.43,134.32 L196.83,134.30 L197.23,134.30 L197.62,134.35 L198.02,134.54 L198.42,134.59 L198.82,134.59 L199.21,134.35 L199.61,134.36 L200.01,134.34 L200.41,134.29 L200.81,134.31 L201.20,134.38 L201.60,134.42 L202.00,134.44 L202.40,134.07 L202.79,134.09 L203.19,134.33 L203.59,134.19 L203.99,134.09 L204.38,133.93 L204.78,134.15 L205.18,134.02 L205.58,133.89 L205.97,134.17 L206.37,134.02 L206.77,133.91 L207.17,133.95 L207.57,133.61 L207.96,133.72 L208.36,133.77 L208.76,133.87 L209.16,133.64 L209.55,133.64 L209.95,133.74 L210.35,133.70 L210.75,133.80 L211.14,133.64 L211.54,133.53 L211.94,133.49 L212.34,133.51 L212.73,133.47 L213.13,133.60 L213.53,133.58 L213.93,133.37 L214.33,133.44 L214.72,133.55 L215.12,133.38 L215.52,133.30 L215.92,133.30 L216.31,133.35 L216.71,133.39 L217.11,133.28 L217.51,133.11 L217.90,133.25 L218.30,133.30 L218.70,133.17 L219.10,133.31 L219.49,133.09 L219.89,133.10 L220.29,132.93 L220.69,132.99 L221.09,132.86 L221.48,132.69 L221.88,132.94 L222.28,132.99 L222.68,132.82 L223.07,132.85 L223.47,132.80 L223.87,132.86 L224.27,132.70 L224.66,132.72 L225.06,132.93 L225.46,132.70 L225.86,132.61 L226.25,132.49 L226.65,132.64 L227.05,132.63 L227.45,132.37 L227.85,132.53 L228.24,132.42 L228.64,132.36 L229.04,132.31 L229.44,132.37 L229.83,132.48 L230.23,132.22 L230.63,132.35 L231.03,132.34 L231.42,132.06 L231.82,132.20 L232.22,132.42 L232.62,132.36 L233.01,132.34 L233.41,132.40 L233.81,132.53 L234.21,132.23 L234.61,132.25 L235.00,132.34 L235.40,132.43 L235.80,132.40 L236.20,132.37 L236.59,132.55 L236.99,132.49 L237.39,132.51 L237.79,132.39 L238.18,132.46 L238.58,132.63 L238.98,132.55 L239.38,132.29 L239.77,132.58 L240.17,132.45 L240.57,132.54 L240.97,132.31 L241.37,132.45 L241.76,132.48 L242.16,132.54 L242.56,132.40 L242.96,132.26 L243.35,132.25 L243.75,132.45 L244.15,132.12 L244.55,132.29 L244.94,132.35 L245.34,132.21 L245.74,132.27 L246.14,132.25 L246.53,132.24 L246.93,132.17 L247.33,132.19 L247.73,132.29 L248.13,132.02 L248.52,132.11 L248.92,131.91 L249.32,131.95 L249.72,131.93 L250.11,131.97 L250.51,131.83 L250.91,131.99 L251.31,132.06 L251.70,131.91 L252.10,132.23 L252.50,131.96 L252.90,131.90 L253.29,131.96 L253.69,131.78 L254.09,131.84 L254.49,131.91 L254.89,131.97 L255.28,131.83 L255.68,132.03 L256.08,132.01 L256.48,131.88 L256.87,131.91 L257.27,131.77 L257.67,132.03 L258.07,132.20 L258.46,131.93 L258.86,131.88 L259.26,132.03 L259.66,131.84 L260.05,131.80 L260.45,132.06 L260.85,132.03 L261.25,132.08 L261.65,131.86 L262.04,131.80 L262.44,131.78 L262.84,131.96 L263.24,131.88 L263.63,131.92 L264.03,131.90 L264.43,131.83 L264.83,131.82 L265.22,131.64 L265.62,131.51 L266.02,131.45 L266.42,131.49 L266.81,131.54 L267.21,131.44 L267.61,131.34 L268.01,131.41 L268.41,131.37 L268.80,131.40 L269.20,131.41 L269.60,131.36 L270.00,131.48 L270.39,131.24 L270.79,131.52 L271.19,131.30 L271.59,131.53 L271.98,131.23 L272.38,131.31 L272.78,131.50 L273.18,131.46 L273.57,131.54 L273.97,131.43 L274.37,131.40 L274.77,131.18 L275.17,131.62 L275.56,131.35 L275.96,131.56 L276.36,131.47 L276.76,131.43 L277.15,131.45 L277.55,131.46 L277.95,131.54 L278.35,131.51 L278.74,131.49 L279.14,131.36 L279.54,131.64 L279.94,131.53 L280.34,131.60 L280.73,131.55 L281.13,131.52 L281.53,131.29 L281.93,131.16 L282.32,131.21 L282.72,131.46 L283.12,131.29 L283.52,131.40 L283.91,131.19 L284.31,131.07 L284.71,131.13 L285.11,131.07 L285.50,131.16 L285.90,131.31 L286.30,131.27 L286.70,131.05 L287.10,130.94 L287.49,130.83 L287.89,130.95 L288.29,130.87 L288.69,130.81 L289.08,130.67 L289.48,130.77 L289.88,130.84 L290.28,130.55 L290.67,130.58 L291.07,130.56 L291.47,130.70 L291.87,130.53 L292.26,130.71 L292.66,130.72 L293.06,130.50 L293.46,130.52 L293.86,130.41 L294.25,130.31 L294.65,130.47 L295.05,130.28 L295.45,130.54 L295.84,130.40 L296.24,130.64 L296.64,130.51 L297.04,130.60 L297.43,130.62 L297.83,130.56 L298.23,130.87 L298.63,130.71 L299.02,130.84 L299.42,130.77 L299.82,130.77 L300.22,130.90 L300.62,130.93 L301.01,131.04 L301.41,130.90 L301.81,131.06 L302.21,130.97 L302.60,131.21 L303.00,130.92 L303.40,131.19 L303.80,130.96 L304.19,131.15 L304.59,131.05 L304.99,131.14 L305.39,131.04 L305.78,131.11 L306.18,130.97 L306.58,131.03 L306.98,131.02 L307.38,130.89 L307.77,131.14 L308.17,130.90 L308.57,131.02 L308.97,131.18 L309.36,130.95 L309.76,131.00 L310.16,130.79 L310.56,131.01 L310.95,130.96 L311.35,130.93 L311.75,131.16 L312.15,130.89 L312.54,131.06 L312.94,130.79 L313.34,130.76 L313.74,130.93 L314.14,131.12 L314.53,130.93 L314.93,130.94 L315.33,130.89 L315.73,131.01 L316.12,131.13 L316.52,131.04 L316.92,131.15 L317.32,130.88 L317.71,131.15 L318.11,131.15 L318.51,131.10 L318.91,131.24 L319.30,131.16 L319.70,131.13 L320.10,131.19 L320.50,131.15 L320.90,130.99 L321.29,131.08 L321.69,131.28 L322.09,131.16 L322.49,131.02 L322.88,131.15 L323.28,131.05 L323.68,131.04 L324.08,130.97 L324.47,131.04 L324.87,131.02 L325.27,131.08 L325.67,130.93 L326.06,131.03 L326.46,130.72 L326.86,130.91 L327.26,130.91 L327.66,130.81 L328.05,130.91 L328.45,130.89 L328.85,130.92 L329.25,131.01 L329.64,131.04 L330.04,131.04 L330.44,130.84 L330.84,131.06 L331.23,131.06 L331.63,131.07 L332.03,130.96 L332.43,130.84 L332.82,131.17 L333.22,131.04 L333.62,131.11 L334.02,131.20 L334.42,131.14 L334.81,131.36 L335.21,131.16 L335.61,131.25 L336.01,131.40 L336.40,131.12 L336.80,131.23 L337.20,131.21 L337.60,131.50 L337.99,131.37 L338.39,131.40 L338.79,131.28 L339.19,131.22 L339.58,131.59 L339.98,131.38 L340.38,131.40 L340.78,131.29 L341.18,131.41 L341.57,131.54 L341.97,131.43 L342.37,131.52 L342.77,131.50 L343.16,131.42 L343.56,131.47 L343.96,131.38 L344.36,131.58 L344.75,131.14 L345.15,131.24 L345.55,131.29 L345.95,131.49 L346.34,131.56 L346.74,131.41 L347.14,131.31 L347.54,131.02 L347.94,131.10 L348.33,131.26 L348.73,131.04 L349.13,131.02 L349.53,131.12 L349.92,130.95 L350.32,131.01 L350.72,131.09 L351.12,131.11 L351.51,130.96 L351.91,130.81 L352.31,131.04 L352.71,131.04 L353.11,130.78 L353.50,131.11 L353.90,130.60 L354.30,130.85 L354.70,130.72 L355.09,130.59 L355.49,130.92 L355.89,130.86 L356.29,130.50 L356.68,130.78 L357.08,130.76 L357.48,130.74 L357.88,130.67 L358.27,130.66 L358.67,130.81 L359.07,130.86 L359.47,130.84 L359.87,130.84 L360.26,130.74 L360.66,130.89 L361.06,130.74 L361.46,131.05 L361.85,130.92 L362.25,130.82 L362.65,130.89 L363.05,131.02 L363.44,131.17 L363.84,131.16 L364.24,131.13 L364.64,131.09 L365.03,131.17 L365.43,131.30 L365.83,131.23 L366.23,131.10 L366.63,131.08 L367.02,131.35 L367.42,131.24 L367.82,131.38 L368.22,131.26 L368.61,130.81 L369.01,131.20 L369.41,131.24 L369.81,131.27 L370.20,131.33 L370.60,131.41 L371.00,131.21 L371.40,131.23 L371.79,131.05 L372.19,131.38 L372.59,131.15 L372.99,131.04 L373.39,131.41 L373.78,131.13 L374.18,131.36 L374.58,131.11 L374.98,131.00 L375.37,131.17 L375.77,131.12 L376.17,131.21 L376.57,131.10 L376.96,131.00 L377.36,131.13 L377.76,131.12 L378.16,131.06 L378.55,131.01 L378.95,131.26 L379.35,131.08 L379.75,131.16 L380.15,131.03 L380.54,130.97 L380.94,131.04 L381.34,130.93 L381.74,131.18 L382.13,131.14 L382.53,131.22 L382.93,131.10 L383.33,131.10 L383.72,131.15 L384.12,131.28 L384.52,131.16 L384.92,131.22 L385.31,131.12 L385.71,131.23 L386.11,131.08 L386.51,131.19 L386.91,131.41 L387.30,131.24 L387.70,131.38 L388.10,131.12 L388.50,131.07 L388.89,131.23 L389.29,131.17 L389.69,131.36 L390.09,131.43 L390.48,131.24 L390.88,131.21 L391.28,131.35 L391.68,131.16 L392.07,131.13 L392.47,131.10 L392.87,130.99 L393.27,131.08 L393.67,131.22 L394.06,131.17 L394.46,131.12 L394.86,131.31 L395.26,131.07 L395.65,131.13 L396.05,131.28 L396.45,131.34 L396.85,130.88 L397.24,131.22 L397.64,131.25 L398.04,131.18 L398.44,131.28 L398.83,131.39 L399.23,131.35 L399.63,131.53 L400.03,131.36 L400.43,131.60 L400.82,131.39 L401.22,131.37 L401.62,131.56 L402.02,131.16 L402.41,131.46 L402.81,131.18 L403.21,131.31 L403.61,131.18 L404.00,131.24 L404.40,130.83 L404.80,130.94 L405.20,130.79 L405.59,130.85 L405.99,130.79 L406.39,130.80 L406.79,130.79 L407.19,130.66 L407.58,130.64 L407.98,130.64 L408.38,130.76 L408.78,130.62 L409.17,130.51 L409.57,130.62 L409.97,130.52 L410.37,130.57 L410.76,130.70 L411.16,130.72 L411.56,130.73 L411.96,130.71 L412.35,130.73 L412.75,130.61 L413.15,130.89 L413.55,131.04 L413.95,130.78 L414.34,130.93 L414.74,130.92 L415.14,130.68 L415.54,130.84 L415.93,130.98 L416.33,130.98 L416.73,131.10 L417.13,131.03 L417.52,131.20 L417.92,131.24 L418.32,131.24 L418.72,131.03 L419.11,131.05 L419.51,131.30 L419.91,131.12 L420.31,131.27 L420.71,131.14 L421.10,131.30 L421.50,131.19 L421.90,131.31 L422.30,131.35 L422.69,131.33 L423.09,131.31 L423.49,131.41 L423.89,131.51 L424.28,131.18 L424.68,131.42 L425.08,131.58 L425.48,131.65 L425.87,131.69 L426.27,131.48 L426.67,131.27 L427.07,131.61 L427.47,131.47 L427.86,131.64 L428.26,131.34 L428.66,131.43 L429.06,131.45 L429.45,131.34 L429.85,131.31 L430.25,131.36 L430.65,131.56 L431.04,131.65 L431.44,131.61 L431.84,131.68 L432.24,131.32 L432.63,131.55 L433.03,131.53 L433.43,131.54 L433.83,131.37 L434.23,131.68 L434.62,131.50 L435.02,131.61 L435.42,131.67 L435.82,131.87 L436.21,131.59 L436.61,131.79 L437.01,131.76 L437.41,131.71 L437.80,131.74 L438.20,131.65 L438.60,131.86 L439.00,131.77 L439.40,131.75 L439.79,131.79 L440.19,131.71 L440.59,131.81 L440.99,131.64 L441.38,131.85 L441.78,131.91 L442.18,131.75 L442.58,131.59 L442.97,131.77 L443.37,131.76 L443.77,131.71 L444.17,131.66 L444.56,131.68 L444.96,131.60 L445.36,131.81 L445.76,131.43 L446.16,131.51 L446.55,131.67 L446.95,131.40 L447.35,131.48 L447.75,131.37 L448.14,131.67 L448.54,131.33 L448.94,131.49 L449.34,131.72 L449.73,131.41 L450.13,131.52 L450.53,131.59 L450.93,131.49 L451.32,131.68 L451.72,131.40 L452.12,131.50 L452.52,131.50 L452.92,131.32 L453.31,131.46 L453.71,131.52 L454.11,131.54 L454.51,131.42 L454.90,131.27 L455.30,131.44 L455.70,131.49 L456.10,131.27 L456.49,131.38 L456.89,131.40 L457.29,131.17 L457.69,131.52 L458.08,131.37 L458.48,131.61 L458.88,131.44 L459.28,131.34 L459.68,131.29 L460.07,131.56 L460.47,131.36 L460.87,131.39 L461.27,131.51 L461.66,131.25 L462.06,131.56 L462.46,131.69 L462.86,131.56 L463.25,131.86 L463.65,131.51 L464.05,131.61 L464.45,131.79 L464.84,131.72 L465.24,131.75 L465.64,131.62 L466.04,131.92 L466.44,132.00 L466.83,132.11 L467.23,131.93 L467.63,132.09 L468.03,131.95 L468.42,131.88 L468.82,131.98 L469.22,132.02 L469.62,131.80 L470.01,131.95 L470.41,131.92 L470.81,131.85 L471.21,132.11 L471.60,132.08 L472.00,131.69 L472.40,131.98" fill="none" stroke="#ff0000" stroke-width="6.85" stroke-linecap="round" stroke-linejoin="round"/><path d="M74.75,279.35 L75.15,264.50 L75.55,258.05" fill="none" stroke="#0000ff" stroke-width="1.6"/><circle cx="74.75" cy="279.35" r="3.35" fill="#0000ff"/><circle cx="75.15" cy="264.50" r="3.35" fill="#0000ff"/><circle cx="75.55" cy="258.05" r="3.35" fill="#0000ff"/><path d="M75.55,258.05 L75.94,253.01 L76.34,249.57 L76.74,247.63 L77.14,245.77 L77.53,243.94 L77.93,242.37 L78.33,241.19 L78.73,239.88 L79.12,238.82 L79.52,237.66 L79.92,236.54 L80.32,235.11 L80.71,234.42 L81.11,232.91 L81.51,232.07 L81.91,230.74 L82.31,229.67 L82.70,228.45 L83.10,227.25 L83.50,226.39 L83.90,225.24 L84.29,224.02 L84.69,222.94 L85.09,221.62 L85.49,220.65 L85.88,219.53 L86.28,218.41 L86.68,217.49 L87.08,216.24 L87.47,215.68 L87.87,214.39 L88.27,213.39 L88.67,212.67 L89.07,211.77 L89.46,210.67 L89.86,210.02 L90.26,209.41 L90.66,208.53 L91.05,207.35 L91.45,206.86 L91.85,205.79 L92.25,205.01 L92.64,204.51 L93.04,203.64 L93.44,203.08 L93.84,202.29 L94.23,201.58 L94.63,200.65 L95.03,200.24 L95.43,199.31 L95.83,198.57 L96.22,197.78 L96.62,197.44 L97.02,196.66 L97.42,195.79 L97.81,194.97 L98.21,194.21 L98.61,193.50 L99.01,192.51 L99.40,192.04 L99.80,191.38 L100.20,190.88 L100.60,190.02 L100.99,189.38 L101.39,188.73 L101.79,188.21 L102.19,187.50 L102.59,186.72 L102.98,186.48 L103.38,186.09 L103.78,185.04 L104.18,184.46 L104.57,184.06 L104.97,183.54 L105.37,182.48 L105.77,182.42 L106.16,182.01 L106.56,181.40 L106.96,180.71 L107.36,180.38 L107.75,179.84 L108.15,179.23 L108.55,178.90 L108.95,178.35 L109.35,177.96 L109.74,177.68 L110.14,177.06 L110.54,176.83 L110.94,176.08 L111.33,175.95 L111.73,175.46 L112.13,175.33 L112.53,174.73 L112.92,174.49 L113.32,173.73 L113.72,173.64 L114.12,173.19 L114.52,173.19 L114.91,172.79 L115.31,172.31 L115.71,172.15 L116.11,171.45 L116.50,171.39 L116.90,171.03 L117.30,170.74 L117.70,170.52 L118.09,170.14 L118.49,170.08 L118.89,169.68 L119.29,169.31 L119.68,169.24 L120.08,169.05 L120.48,168.90 L120.88,168.63 L121.28,168.33 L121.67,168.31 L122.07,168.38 L122.47,167.91 L122.87,167.80 L123.26,167.59 L123.66,167.51 L124.06,167.17 L124.46,167.45 L124.85,167.28 L125.25,166.91 L125.65,167.05 L126.05,166.75 L126.44,166.72 L126.84,166.94 L127.24,166.45 L127.64,166.25 L128.04,166.33 L128.43,166.48 L128.83,166.08 L129.23,166.26 L129.63,166.03 L130.02,165.86 L130.42,165.93 L130.82,165.99 L131.22,165.65 L131.61,165.58 L132.01,165.62 L132.41,165.51 L132.81,165.20 L133.20,165.23 L133.60,165.21 L134.00,165.16 L134.40,164.95 L134.80,164.87 L135.19,164.85 L135.59,164.94 L135.99,164.70 L136.39,164.67 L136.78,164.49 L137.18,164.23 L137.58,164.16 L137.98,164.12 L138.37,164.12 L138.77,164.13 L139.17,163.95 L139.57,164.01 L139.96,163.96 L140.36,163.95 L140.76,163.79 L141.16,163.74 L141.56,163.41 L141.95,163.58 L142.35,163.67 L142.75,163.46 L143.15,163.62 L143.54,163.38 L143.94,163.40 L144.34,163.08 L144.74,163.67 L145.13,163.48 L145.53,163.49 L145.93,163.43 L146.33,163.36 L146.72,163.65 L147.12,163.61 L147.52,163.46 L147.92,163.34 L148.32,163.66 L148.71,163.72 L149.11,163.31 L149.51,163.35 L149.91,163.30 L150.30,163.60 L150.70,163.47 L151.10,163.42 L151.50,163.36 L151.89,163.43 L152.29,163.43 L152.69,163.25 L153.09,163.44 L153.48,163.45 L153.88,163.42 L154.28,163.39 L154.68,163.28 L155.08,163.31 L155.47,163.34 L155.87,163.04 L156.27,163.20 L156.67,163.30 L157.06,163.06 L157.46,163.33 L157.86,163.26 L158.26,163.26 L158.65,163.36 L159.05,163.34 L159.45,163.25 L159.85,163.47 L160.24,163.32 L160.64,163.25 L161.04,163.25 L161.44,163.26 L161.84,162.97 L162.23,163.22 L162.63,163.32 L163.03,163.31 L163.43,163.28 L163.82,163.23 L164.22,163.31 L164.62,163.02 L165.02,163.40 L165.41,163.09 L165.81,163.07 L166.21,163.26 L166.61,162.97 L167.00,162.93 L167.40,163.04 L167.80,162.56 L168.20,162.75 L168.60,162.86 L168.99,162.83 L169.39,162.81 L169.79,162.63 L170.19,162.61 L170.58,162.79 L170.98,162.67 L171.38,162.58 L171.78,162.49 L172.17,162.46 L172.57,162.47 L172.97,162.27 L173.37,162.17 L173.76,162.26 L174.16,162.56 L174.56,162.24 L174.96,162.13 L175.36,162.20 L175.75,162.17 L176.15,162.17 L176.55,162.37 L176.95,162.47 L177.34,161.99 L177.74,162.13 L178.14,161.97 L178.54,162.05 L178.93,162.01 L179.33,161.75 L179.73,162.12 L180.13,161.89 L180.52,162.03 L180.92,161.82 L181.32,161.70 L181.72,161.66 L182.12,161.72 L182.51,161.92 L182.91,161.65 L183.31,161.53 L183.71,161.50 L184.10,161.30 L184.50,161.51 L184.90,161.72 L185.30,161.64 L185.69,161.53 L186.09,161.37 L186.49,161.68 L186.89,161.37 L187.28,161.41 L187.68,161.63 L188.08,161.39 L188.48,161.56 L188.88,161.44 L189.27,161.47 L189.67,161.41 L190.07,161.62 L190.47,161.35 L190.86,161.71 L191.26,161.41 L191.66,161.43 L192.06,161.06 L192.45,161.21 L192.85,161.32 L193.25,161.36 L193.65,161.19 L194.05,161.26 L194.44,160.82 L194.84,161.50 L195.24,161.03 L195.64,161.36 L196.03,160.82 L196.43,161.07 L196.83,160.68 L197.23,160.96 L197.62,160.70 L198.02,160.80 L198.42,160.61 L198.82,160.74 L199.21,161.17 L199.61,160.82 L200.01,160.93 L200.41,160.57 L200.81,160.64 L201.20,160.72 L201.60,160.66 L202.00,160.70 L202.40,160.82 L202.79,160.46 L203.19,160.69 L203.59,160.74 L203.99,160.91 L204.38,160.78 L204.78,160.67 L205.18,160.66 L205.58,160.70 L205.97,160.59 L206.37,160.70 L206.77,160.48 L207.17,160.66 L207.57,160.49 L207.96,160.39 L208.36,160.08 L208.76,160.05 L209.16,160.04 L209.55,160.14 L209.95,159.94 L210.35,159.69 L210.75,159.52 L211.14,159.88 L211.54,159.65 L211.94,159.50 L212.34,159.39 L212.73,159.38 L213.13,159.23 L213.53,159.52 L213.93,159.05 L214.33,159.42 L214.72,159.22 L215.12,159.15 L215.52,159.01 L215.92,159.03 L216.31,159.03 L216.71,158.95 L217.11,159.18 L217.51,159.04 L217.90,158.94 L218.30,159.31 L218.70,159.41 L219.10,159.35 L219.49,159.01 L219.89,159.07 L220.29,159.33 L220.69,159.25 L221.09,159.26 L221.48,159.21 L221.88,159.68 L222.28,159.53 L222.68,159.53 L223.07,159.48 L223.47,159.54 L223.87,159.66 L224.27,159.59 L224.66,160.05 L225.06,159.29 L225.46,159.65 L225.86,159.68 L226.25,159.95 L226.65,159.84 L227.05,159.67 L227.45,159.73 L227.85,160.05 L228.24,160.24 L228.64,160.05 L229.04,160.16 L229.44,160.00 L229.83,160.31 L230.23,160.14 L230.63,160.07 L231.03,160.20 L231.42,159.98 L231.82,160.30 L232.22,160.34 L232.62,160.19 L233.01,160.04 L233.41,160.17 L233.81,160.18 L234.21,159.93 L234.61,159.97 L235.00,160.08 L235.40,159.95 L235.80,159.96 L236.20,159.78 L236.59,159.80 L236.99,159.90 L237.39,159.81 L237.79,159.75 L238.18,159.58 L238.58,159.53 L238.98,159.65 L239.38,159.52 L239.77,159.40 L240.17,159.21 L240.57,159.28 L240.97,158.99 L241.37,159.23 L241.76,159.09 L242.16,159.20 L242.56,159.25 L242.96,159.04 L243.35,158.94 L243.75,158.93 L244.15,158.96 L244.55,159.04 L244.94,159.12 L245.34,159.04 L245.74,158.93 L246.14,158.89 L246.53,159.54 L246.93,158.98 L247.33,158.92 L247.73,158.92 L248.13,159.07 L248.52,159.03 L248.92,159.20 L249.32,159.15 L249.72,159.10 L250.11,159.39 L250.51,159.37 L250.91,159.22 L251.31,159.44 L251.70,159.24 L252.10,159.48 L252.50,159.24 L252.90,159.22 L253.29,159.31 L253.69,159.34 L254.09,159.25 L254.49,159.49 L254.89,159.20 L255.28,159.08 L255.68,158.89 L256.08,159.11 L256.48,159.05 L256.87,158.78 L257.27,158.70 L257.67,158.99 L258.07,158.73 L258.46,158.70 L258.86,158.79 L259.26,159.01 L259.66,158.99 L260.05,158.75 L260.45,158.47 L260.85,158.82 L261.25,158.54 L261.65,158.50 L262.04,158.98 L262.44,158.88 L262.84,158.59 L263.24,158.66 L263.63,158.74 L264.03,158.82 L264.43,158.72 L264.83,158.90 L265.22,158.44 L265.62,158.96 L266.02,159.04 L266.42,158.73 L266.81,158.54 L267.21,158.85 L267.61,158.81 L268.01,158.97 L268.41,158.84 L268.80,159.00 L269.20,159.03 L269.60,159.10 L270.00,158.98 L270.39,158.65 L270.79,158.96 L271.19,158.92 L271.59,158.65 L271.98,159.11 L272.38,159.17 L272.78,158.97 L273.18,159.27 L273.57,159.05 L273.97,158.98 L274.37,159.32 L274.77,159.27 L275.17,158.94 L275.56,159.34 L275.96,159.30 L276.36,159.17 L276.76,159.28 L277.15,159.35 L277.55,158.97 L277.95,159.28 L278.35,159.14 L278.74,159.25 L279.14,159.22 L279.54,159.38 L279.94,159.02 L280.34,159.21 L280.73,158.93 L281.13,159.28 L281.53,159.17 L281.93,159.01 L282.32,159.05 L282.72,159.16 L283.12,159.06 L283.52,159.17 L283.91,158.93 L284.31,159.31 L284.71,158.88 L285.11,158.70 L285.50,158.74 L285.90,158.72 L286.30,158.93 L286.70,158.78 L287.10,158.89 L287.49,158.85 L287.89,158.86 L288.29,159.33 L288.69,158.72 L289.08,158.81 L289.48,158.75 L289.88,159.05 L290.28,158.83 L290.67,158.89 L291.07,159.31 L291.47,159.30 L291.87,159.06 L292.26,159.21 L292.66,159.17 L293.06,159.28 L293.46,158.99 L293.86,159.53 L294.25,159.49 L294.65,159.45 L295.05,159.54 L295.45,159.46 L295.84,159.40 L296.24,159.63 L296.64,159.39 L297.04,159.25 L297.43,159.27 L297.83,159.13 L298.23,159.24 L298.63,159.42 L299.02,159.11 L299.42,159.26 L299.82,159.07 L300.22,159.34 L300.62,159.62 L301.01,159.45 L301.41,159.21 L301.81,159.15 L302.21,159.23 L302.60,159.01 L303.00,159.29 L303.40,159.19 L303.80,158.88 L304.19,158.99 L304.59,158.94 L304.99,158.71 L305.39,158.72 L305.78,158.99 L306.18,158.81 L306.58,159.06 L306.98,158.78 L307.38,158.70 L307.77,159.01 L308.17,158.51 L308.57,158.40 L308.97,158.61 L309.36,158.55 L309.76,158.46 L310.16,158.70 L310.56,158.50 L310.95,158.61 L311.35,158.90 L311.75,158.81 L312.15,158.75 L312.54,158.53 L312.94,158.68 L313.34,158.61 L313.74,158.86 L314.14,159.00 L314.53,158.52 L314.93,158.43 L315.33,158.81 L315.73,158.93 L316.12,158.75 L316.52,159.11 L316.92,159.01 L317.32,159.22 L317.71,158.96 L318.11,159.01 L318.51,159.14 L318.91,159.20 L319.30,159.37 L319.70,159.29 L320.10,159.02 L320.50,159.27 L320.90,159.06 L321.29,159.38 L321.69,159.28 L322.09,159.34 L322.49,159.32 L322.88,159.17 L323.28,159.61 L323.68,159.23 L324.08,159.22 L324.47,159.35 L324.87,159.36 L325.27,159.41 L325.67,159.32 L326.06,159.43 L326.46,159.57 L326.86,159.48 L327.26,159.36 L327.66,159.47 L328.05,159.54 L328.45,159.54 L328.85,159.66 L329.25,159.70 L329.64,159.91 L330.04,159.65 L330.44,159.49 L330.84,159.73 L331.23,159.84 L331.63,159.60 L332.03,159.73 L332.43,159.76 L332.82,159.73 L333.22,159.69 L333.62,159.83 L334.02,159.96 L334.42,159.58 L334.81,159.83 L335.21,159.98 L335.61,159.84 L336.01,159.68 L336.40,160.06 L336.80,159.67 L337.20,159.86 L337.60,159.53 L337.99,159.70 L338.39,159.81 L338.79,159.59 L339.19,159.58 L339.58,159.82 L339.98,159.72 L340.38,159.80 L340.78,159.56 L341.18,159.88 L341.57,159.68 L341.97,159.94 L342.37,159.54 L342.77,159.92 L343.16,159.72 L343.56,159.51 L343.96,159.60 L344.36,159.61 L344.75,159.69 L345.15,159.61 L345.55,159.80 L345.95,159.50 L346.34,159.44 L346.74,159.46 L347.14,159.57 L347.54,159.39 L347.94,159.52 L348.33,159.47 L348.73,159.57 L349.13,159.66 L349.53,159.79 L349.92,160.06 L350.32,159.61 L350.72,159.75 L351.12,159.44 L351.51,160.01 L351.91,159.61 L352.31,159.89 L352.71,159.75 L353.11,159.88 L353.50,159.73 L353.90,159.78 L354.30,159.66 L354.70,159.75 L355.09,159.70 L355.49,159.55 L355.89,159.66 L356.29,159.73 L356.68,159.52 L357.08,159.71 L357.48,159.61 L357.88,159.72 L358.27,159.74 L358.67,160.06 L359.07,159.52 L359.47,159.78 L359.87,159.49 L360.26,159.33 L360.66,159.80 L361.06,159.48 L361.46,159.63 L361.85,159.55 L362.25,159.81 L362.65,159.65 L363.05,159.65 L363.44,159.45 L363.84,159.39 L364.24,159.69 L364.64,159.81 L365.03,159.47 L365.43,159.84 L365.83,159.86 L366.23,159.86 L366.63,159.81 L367.02,159.80 L367.42,160.03 L367.82,159.99 L368.22,159.72 L368.61,159.78 L369.01,159.99 L369.41,160.00 L369.81,160.07 L370.20,159.89 L370.60,160.12 L371.00,160.03 L371.40,160.12 L371.79,160.14 L372.19,160.05 L372.59,160.03 L372.99,160.12 L373.39,160.03 L373.78,159.97 L374.18,160.05 L374.58,160.07 L374.98,159.96 L375.37,159.83 L375.77,159.76 L376.17,159.87 L376.57,159.92 L376.96,159.86 L377.36,159.55 L377.76,159.66 L378.16,159.90 L378.55,159.75 L378.95,159.78 L379.35,159.75 L379.75,159.93 L380.15,159.62 L380.54,159.77 L380.94,159.62 L381.34,159.25 L381.74,159.30 L382.13,159.53 L382.53,159.53 L382.93,159.48 L383.33,159.59 L383.72,159.43 L384.12,159.29 L384.52,159.38 L384.92,159.08 L385.31,159.18 L385.71,159.22 L386.11,158.88 L386.51,159.04 L386.91,159.10 L387.30,158.83 L387.70,158.90 L388.10,159.22 L388.50,159.05 L388.89,159.19 L389.29,159.33 L389.69,158.85 L390.09,158.90 L390.48,159.31 L390.88,159.06 L391.28,159.39 L391.68,158.99 L392.07,159.17 L392.47,159.20 L392.87,158.97 L393.27,159.15 L393.67,159.20 L394.06,159.06 L394.46,159.25 L394.86,159.07 L395.26,159.22 L395.65,159.11 L396.05,159.17 L396.45,159.16 L396.85,159.46 L397.24,159.06 L397.64,159.40 L398.04,159.14 L398.44,159.53 L398.83,159.51 L399.23,159.54 L399.63,159.34 L400.03,159.61 L400.43,159.51 L400.82,159.85 L401.22,159.70 L401.62,159.61 L402.02,159.71 L402.41,160.01 L402.81,159.69 L403.21,159.96 L403.61,159.51 L404.00,159.85 L404.40,159.47 L404.80,159.73 L405.20,159.74 L405.59,159.89 L405.99,159.82 L406.39,159.74 L406.79,160.08 L407.19,159.64 L407.58,159.97 L407.98,159.85 L408.38,160.21 L408.78,159.75 L409.17,159.73 L409.57,159.83 L409.97,159.82 L410.37,159.92 L410.76,159.87 L411.16,159.71 L411.56,159.98 L411.96,159.85 L412.35,159.83 L412.75,159.99 L413.15,159.94 L413.55,159.97 L413.95,160.08 L414.34,159.66 L414.74,160.11 L415.14,159.81 L415.54,159.94 L415.93,160.41 L416.33,160.08 L416.73,159.98 L417.13,160.02 L417.52,160.27 L417.92,160.12 L418.32,160.33 L418.72,160.29 L419.11,160.16 L419.51,160.08 L419.91,159.86 L420.31,160.04 L420.71,159.93 L421.10,160.26 L421.50,160.26 L421.90,160.17 L422.30,159.84 L422.69,160.28 L423.09,160.32 L423.49,160.07 L423.89,159.89 L424.28,160.29 L424.68,160.07 L425.08,160.24 L425.48,159.78 L425.87,159.88 L426.27,159.93 L426.67,159.98 L427.07,160.00 L427.47,159.94 L427.86,160.05 L428.26,160.07 L428.66,160.09 L429.06,159.93 L429.45,160.05 L429.85,159.80 L430.25,160.26 L430.65,159.85 L431.04,159.85 L431.44,159.73 L431.84,159.94 L432.24,160.12 L432.63,160.03 L433.03,159.72 L433.43,159.94 L433.83,159.98 L434.23,160.00 L434.62,159.94 L435.02,159.97 L435.42,160.18 L435.82,160.04 L436.21,159.81 L436.61,159.76 L437.01,159.99 L437.41,160.06 L437.80,159.76 L438.20,159.98 L438.60,160.12 L439.00,159.98 L439.40,159.83 L439.79,159.70 L440.19,160.00 L440.59,159.87 L440.99,159.99 L441.38,159.76 L441.78,159.91 L442.18,159.90 L442.58,160.08 L442.97,159.95 L443.37,159.93 L443.77,160.42 L444.17,159.71 L444.56,159.82 L444.96,159.84 L445.36,159.83 L445.76,159.76 L446.16,159.69 L446.55,159.91 L446.95,159.70 L447.35,159.68 L447.75,159.68 L448.14,159.88 L448.54,159.68 L448.94,159.82 L449.34,159.53 L449.73,159.35 L450.13,159.37 L450.53,159.53 L450.93,159.51 L451.32,159.48 L451.72,159.30 L452.12,159.44 L452.52,159.40 L452.92,159.68 L453.31,159.43 L453.71,159.42 L454.11,159.37 L454.51,159.09 L454.90,159.46 L455.30,159.44 L455.70,159.14 L456.10,159.38 L456.49,159.25 L456.89,159.19 L457.29,159.21 L457.69,159.34 L458.08,159.07 L458.48,158.99 L458.88,159.37 L459.28,159.27 L459.68,159.09 L460.07,159.26 L460.47,159.40 L460.87,159.34 L461.27,159.16 L461.66,159.43 L462.06,159.26 L462.46,159.26 L462.86,159.43 L463.25,159.25 L463.65,159.26 L464.05,159.22 L464.45,159.25 L464.84,159.64 L465.24,159.28 L465.64,159.38 L466.04,159.35 L466.44,159.66 L466.83,159.43 L467.23,159.52 L467.63,159.78 L468.03,159.44 L468.42,159.76 L468.82,159.83 L469.22,159.64 L469.62,159.80 L470.01,159.68 L470.41,159.79 L470.81,159.72 L471.21,159.65 L471.60,159.78 L472.00,159.64 L472.40,159.62" fill="none" stroke="#0000ff" stroke-width="6.85" stroke-linecap="round" stroke-linejoin="round"/><path d="M74.75,252.02 L75.55,245.86 L76.34,240.37 L77.14,235.03 L77.93,229.87 L78.73,224.87 L79.52,220.07 L80.32,215.47 L81.11,211.10 L81.91,206.94 L82.70,203.02 L83.50,199.32 L84.29,195.84 L85.09,192.56 L85.88,189.47 L86.68,186.54 L87.47,183.75 L88.27,181.06 L89.07,178.46 L89.86,175.92 L90.66,173.42 L91.45,170.96 L92.25,168.53 L93.04,166.12 L93.84,163.75 L94.63,161.41 L95.43,159.11 L96.22,156.87 L97.02,154.68 L97.81,152.56 L98.61,150.50 L99.40,148.51 L100.20,146.59 L100.99,144.73 L101.79,142.93 L102.59,141.19 L103.38,139.51 L104.18,137.87 L104.97,136.28 L105.77,134.73 L106.56,133.22 L107.36,131.74 L108.15,130.29 L108.95,128.87 L109.74,127.47 L110.54,126.11 L111.33,124.76 L112.13,123.45 L112.92,122.15 L113.72,120.89 L114.52,119.64 L115.31,118.42 L116.11,117.23 L116.90,116.05 L117.70,114.91 L118.49,113.79 L119.29,112.69 L120.08,111.62 L120.88,110.57 L121.67,109.55 L122.47,108.56 L123.26,107.59 L124.06,106.65 L124.85,105.73 L125.65,104.84 L126.44,103.97 L127.24,103.13 L128.04,102.31 L128.83,101.52 L129.63,100.75 L130.42,100.00 L131.22,99.28 L132.01,98.58 L132.81,97.89 L133.60,97.23 L134.40,96.59 L135.19,95.96 L135.99,95.36 L136.78,94.76 L137.58,94.19 L138.37,93.63 L139.17,93.09 L139.96,92.56 L140.76,92.04 L141.56,91.54 L142.35,91.05 L143.15,90.57 L143.94,90.11 L144.74,89.66 L145.53,89.22 L146.33,88.79 L147.12,88.38 L147.92,87.97 L148.71,87.58 L149.51,87.20 L150.30,86.83 L151.10,86.47 L151.89,86.12 L152.69,85.78 L153.48,85.45 L154.28,85.13 L155.08,84.82 L155.87,84.52 L156.67,84.23 L157.46,83.95 L158.26,83.68 L159.05,83.42 L159.85,83.16 L160.64,82.91 L161.44,82.68 L162.23,82.45 L163.03,82.22 L163.82,82.01 L164.62,81.80 L165.41,81.60 L166.21,81.40 L167.00,81.21 L167.80,81.03 L168.60,80.85 L169.39,80.68 L170.19,80.52 L170.98,80.35 L171.78,80.20 L172.57,80.05 L173.37,79.90 L174.16,79.76 L174.96,79.63 L175.75,79.49 L176.55,79.36 L177.34,79.24 L178.14,79.12 L178.93,79.00 L179.73,78.89 L180.52,78.77 L181.32,78.67 L182.12,78.56 L182.91,78.46 L183.71,78.36 L184.50,78.26 L185.30,78.17 L186.09,78.07 L186.89,77.98 L187.68,77.90 L188.48,77.81 L189.27,77.73 L190.07,77.64 L190.86,77.56 L191.66,77.48 L192.45,77.41 L193.25,77.33 L194.05,77.26 L194.84,77.19 L195.64,77.12 L196.43,77.05 L197.23,76.98 L198.02,76.92 L198.82,76.85 L199.61,76.79 L200.41,76.73 L201.20,76.66 L202.00,76.61 L202.79,76.55 L203.59,76.49 L204.38,76.43 L205.18,76.38 L205.97,76.33 L206.77,76.27 L207.57,76.22 L208.36,76.17 L209.16,76.12 L209.95,76.07 L210.75,76.03 L211.54,75.98 L212.34,75.94 L213.13,75.89 L213.93,75.85 L214.72,75.81 L215.52,75.76 L216.31,75.72 L217.11,75.68 L217.90,75.64 L218.70,75.61 L219.49,75.57 L220.29,75.53 L221.09,75.50 L221.88,75.46 L222.68,75.43 L223.47,75.40 L224.27,75.36 L225.06,75.33 L225.86,75.30 L226.65,75.27 L227.45,75.24 L228.24,75.21 L229.04,75.18 L229.83,75.16 L230.63,75.13 L231.42,75.10 L232.22,75.08 L233.01,75.05 L233.81,75.03 L234.61,75.01 L235.40,74.98 L236.20,74.96 L236.99,74.94 L237.79,74.92 L238.58,74.89 L239.38,74.87 L240.17,74.85 L240.97,74.83 L241.76,74.81 L242.56,74.80 L243.35,74.78 L244.15,74.76 L244.94,74.74 L245.74,74.72 L246.53,74.71 L247.33,74.69 L248.13,74.68 L248.92,74.66 L249.72,74.65 L250.51,74.63 L251.31,74.62 L252.10,74.60 L252.90,74.59 L253.69,74.57 L254.49,74.56 L255.28,74.55 L256.08,74.53 L256.87,74.52 L257.67,74.51 L258.46,74.50 L259.26,74.49 L260.05,74.48 L260.85,74.46 L261.65,74.45 L262.44,74.44 L263.24,74.43 L264.03,74.42 L264.83,74.41 L265.62,74.40 L266.42,74.39 L267.21,74.38 L268.01,74.37 L268.80,74.36 L269.60,74.35 L270.39,74.35 L271.19,74.34 L271.98,74.33 L272.78,74.32 L273.57,74.31 L274.37,74.30 L275.17,74.30 L275.96,74.29 L276.76,74.28 L277.55,74.27 L278.35,74.26 L279.14,74.26 L279.94,74.25 L280.73,74.24 L281.53,74.24 L282.32,74.23 L283.12,74.22 L283.91,74.22 L284.71,74.21 L285.50,74.20 L286.30,74.20 L287.10,74.19 L287.89,74.18 L288.69,74.18 L289.48,74.17 L290.28,74.17 L291.07,74.16 L291.87,74.15 L292.66,74.15 L293.46,74.14 L294.25,74.14 L295.05,74.13 L295.84,74.13 L296.64,74.12 L297.43,74.12 L298.23,74.11 L299.02,74.11 L299.82,74.10 L300.62,74.10 L301.41,74.09 L302.21,74.09 L303.00,74.08 L303.80,74.08 L304.59,74.07 L305.39,74.07 L306.18,74.06 L306.98,74.06 L307.77,74.06 L308.57,74.05 L309.36,74.05 L310.16,74.04 L310.95,74.04 L311.75,74.04 L312.54,74.03 L313.34,74.03 L314.14,74.03 L314.93,74.02 L315.73,74.02 L316.52,74.01 L317.32,74.01 L318.11,74.01 L318.91,74.00 L319.70,74.00 L320.50,74.00 L321.29,74.00 L322.09,73.99 L322.88,73.99 L323.68,73.99 L324.47,73.98 L325.27,73.98 L326.06,73.98 L326.86,73.98 L327.66,73.97 L328.45,73.97 L329.25,73.97 L330.04,73.97 L330.84,73.96 L331.63,73.96 L332.43,73.96 L333.22,73.96 L334.02,73.96 L334.81,73.95 L335.61,73.95 L336.40,73.95 L337.20,73.95 L337.99,73.95 L338.79,73.95 L339.58,73.95 L340.38,73.94 L341.18,73.94 L341.97,73.94 L342.77,73.94 L343.56,73.94 L344.36,73.94 L345.15,73.94 L345.95,73.94 L346.74,73.94 L347.54,73.94 L348.33,73.93 L349.13,73.93 L349.92,73.93 L350.72,73.93 L351.51,73.93 L352.31,73.93 L353.11,73.93 L353.90,73.93 L354.70,73.93 L355.49,73.93 L356.29,73.93 L357.08,73.93 L357.88,73.93 L358.67,73.93 L359.47,73.93 L360.26,73.93 L361.06,73.93 L361.85,73.93 L362.65,73.93 L363.44,73.94 L364.24,73.94 L365.03,73.94 L365.83,73.94 L366.63,73.94 L367.42,73.94 L368.22,73.94 L369.01,73.94 L369.81,73.94 L370.60,73.94 L371.40,73.95 L372.19,73.95 L372.99,73.95 L373.78,73.95 L374.58,73.95 L375.37,73.95 L376.17,73.95 L376.96,73.96 L377.76,73.96 L378.55,73.96 L379.35,73.96 L380.15,73.96 L380.94,73.97 L381.74,73.97 L382.53,73.97 L383.33,73.97 L384.12,73.97 L384.92,73.98 L385.71,73.98 L386.51,73.98 L387.30,73.98 L388.10,73.99 L388.89,73.99 L389.69,73.99 L390.48,73.99 L391.28,74.00 L392.07,74.00 L392.87,74.00 L393.67,74.00 L394.46,74.01 L395.26,74.01 L396.05,74.01 L396.85,74.02 L397.64,74.02 L398.44,74.02 L399.23,74.02 L400.03,74.03 L400.82,74.03 L401.62,74.03 L402.41,74.04 L403.21,74.04 L404.00,74.04 L404.80,74.05 L405.59,74.05 L406.39,74.05 L407.19,74.06 L407.98,74.06 L408.78,74.06 L409.57,74.07 L410.37,74.07 L411.16,74.07 L411.96,74.08 L412.75,74.08 L413.55,74.09 L414.34,74.09 L415.14,74.09 L415.93,74.10 L416.73,74.10 L417.52,74.10 L418.32,74.11 L419.11,74.11 L419.91,74.11 L420.71,74.12 L421.50,74.12 L422.30,74.13 L423.09,74.13 L423.89,74.13 L424.68,74.14 L425.48,74.14 L426.27,74.15 L427.07,74.15 L427.86,74.15 L428.66,74.16 L429.45,74.16 L430.25,74.16 L431.04,74.17 L431.84,74.17 L432.63,74.18 L433.43,74.18 L434.23,74.18 L435.02,74.19 L435.82,74.19 L436.61,74.20 L437.41,74.20 L438.20,74.20 L439.00,74.21 L439.79,74.21 L440.59,74.21 L441.38,74.22 L442.18,74.22 L442.97,74.23 L443.77,74.23 L444.56,74.23 L445.36,74.24 L446.16,74.24 L446.95,74.24 L447.75,74.25 L448.54,74.25 L449.34,74.26 L450.13,74.26 L450.93,74.26 L451.72,74.27 L452.52,74.27 L453.31,74.27 L454.11,74.28 L454.90,74.28 L455.70,74.28 L456.49,74.29 L457.29,74.29 L458.08,74.29 L458.88,74.30 L459.68,74.30 L460.47,74.30 L461.27,74.31 L462.06,74.31 L462.86,74.31 L463.65,74.32 L464.45,74.32 L465.24,74.32 L466.04,74.33 L466.83,74.33 L467.63,74.33 L468.42,74.34 L469.22,74.34 L470.01,74.34 L470.81,74.35 L471.60,74.35 L472.40,74.35" fill="none" stroke="#000" stroke-width="1.65" stroke-linejoin="round"/><path d="M74.75,254.17 L75.55,248.23 L76.34,242.94 L77.14,237.80 L77.93,232.82 L78.73,228.00 L79.52,223.38 L80.32,218.95 L81.11,214.74 L81.91,210.75 L82.70,206.97 L83.50,203.42 L84.29,200.08 L85.09,196.94 L85.88,193.98 L86.68,191.18 L87.47,188.50 L88.27,185.92 L89.07,183.42 L89.86,180.97 L90.66,178.55 L91.45,176.16 L92.25,173.78 L93.04,171.42 L93.84,169.08 L94.63,166.77 L95.43,164.49 L96.22,162.26 L97.02,160.08 L97.81,157.96 L98.61,155.91 L99.40,153.92 L100.20,152.00 L100.99,150.15 L101.79,148.37 L102.59,146.66 L103.38,145.00 L104.18,143.41 L104.97,141.88 L105.77,140.40 L106.56,138.97 L107.36,137.60 L108.15,136.26 L108.95,134.98 L109.74,133.73 L110.54,132.52 L111.33,131.35 L112.13,130.21 L112.92,129.11 L113.72,128.04 L114.52,127.00 L115.31,125.99 L116.11,125.01 L116.90,124.05 L117.70,123.11 L118.49,122.20 L119.29,121.30 L120.08,120.43 L120.88,119.57 L121.67,118.73 L122.47,117.91 L123.26,117.10 L124.06,116.32 L124.85,115.54 L125.65,114.79 L126.44,114.04 L127.24,113.32 L128.04,112.61 L128.83,111.91 L129.63,111.23 L130.42,110.57 L131.22,109.93 L132.01,109.30 L132.81,108.68 L133.60,108.09 L134.40,107.50 L135.19,106.94 L135.99,106.39 L136.78,105.86 L137.58,105.35 L138.37,104.85 L139.17,104.36 L139.96,103.89 L140.76,103.44 L141.56,103.01 L142.35,102.58 L143.15,102.17 L143.94,101.78 L144.74,101.40 L145.53,101.03 L146.33,100.68 L147.12,100.34 L147.92,100.01 L148.71,99.69 L149.51,99.38 L150.30,99.09 L151.10,98.80 L151.89,98.52 L152.69,98.26 L153.48,98.00 L154.28,97.75 L155.08,97.51 L155.87,97.28 L156.67,97.05 L157.46,96.84 L158.26,96.63 L159.05,96.42 L159.85,96.23 L160.64,96.04 L161.44,95.86 L162.23,95.68 L163.03,95.51 L163.82,95.35 L164.62,95.19 L165.41,95.04 L166.21,94.89 L167.00,94.75 L167.80,94.62 L168.60,94.48 L169.39,94.36 L170.19,94.23 L170.98,94.12 L171.78,94.00 L172.57,93.89 L173.37,93.79 L174.16,93.68 L174.96,93.58 L175.75,93.49 L176.55,93.40 L177.34,93.31 L178.14,93.22 L178.93,93.14 L179.73,93.06 L180.52,92.98 L181.32,92.90 L182.12,92.83 L182.91,92.75 L183.71,92.68 L184.50,92.62 L185.30,92.55 L186.09,92.49 L186.89,92.42 L187.68,92.36 L188.48,92.30 L189.27,92.24 L190.07,92.19 L190.86,92.13 L191.66,92.08 L192.45,92.02 L193.25,91.97 L194.05,91.92 L194.84,91.87 L195.64,91.82 L196.43,91.77 L197.23,91.72 L198.02,91.67 L198.82,91.62 L199.61,91.58 L200.41,91.53 L201.20,91.49 L202.00,91.44 L202.79,91.40 L203.59,91.35 L204.38,91.31 L205.18,91.27 L205.97,91.23 L206.77,91.18 L207.57,91.14 L208.36,91.10 L209.16,91.06 L209.95,91.02 L210.75,90.98 L211.54,90.94 L212.34,90.91 L213.13,90.87 L213.93,90.83 L214.72,90.79 L215.52,90.76 L216.31,90.72 L217.11,90.68 L217.90,90.65 L218.70,90.61 L219.49,90.58 L220.29,90.54 L221.09,90.51 L221.88,90.48 L222.68,90.44 L223.47,90.41 L224.27,90.38 L225.06,90.35 L225.86,90.32 L226.65,90.29 L227.45,90.26 L228.24,90.23 L229.04,90.20 L229.83,90.18 L230.63,90.15 L231.42,90.12 L232.22,90.10 L233.01,90.07 L233.81,90.05 L234.61,90.03 L235.40,90.00 L236.20,89.98 L236.99,89.96 L237.79,89.94 L238.58,89.92 L239.38,89.90 L240.17,89.88 L240.97,89.86 L241.76,89.84 L242.56,89.83 L243.35,89.81 L244.15,89.79 L244.94,89.78 L245.74,89.76 L246.53,89.75 L247.33,89.74 L248.13,89.72 L248.92,89.71 L249.72,89.70 L250.51,89.69 L251.31,89.68 L252.10,89.67 L252.90,89.66 L253.69,89.65 L254.49,89.64 L255.28,89.63 L256.08,89.62 L256.87,89.62 L257.67,89.61 L258.46,89.60 L259.26,89.60 L260.05,89.59 L260.85,89.58 L261.65,89.58 L262.44,89.57 L263.24,89.57 L264.03,89.57 L264.83,89.56 L265.62,89.56 L266.42,89.56 L267.21,89.55 L268.01,89.55 L268.80,89.55 L269.60,89.55 L270.39,89.54 L271.19,89.54 L271.98,89.54 L272.78,89.54 L273.57,89.54 L274.37,89.54 L275.17,89.54 L275.96,89.53 L276.76,89.53 L277.55,89.53 L278.35,89.53 L279.14,89.53 L279.94,89.53 L280.73,89.53 L281.53,89.53 L282.32,89.53 L283.12,89.53 L283.91,89.53 L284.71,89.53 L285.50,89.53 L286.30,89.53 L287.10,89.53 L287.89,89.53 L288.69,89.54 L289.48,89.54 L290.28,89.54 L291.07,89.54 L291.87,89.54 L292.66,89.54 L293.46,89.54 L294.25,89.54 L295.05,89.54 L295.84,89.54 L296.64,89.54 L297.43,89.54 L298.23,89.54 L299.02,89.54 L299.82,89.55 L300.62,89.55 L301.41,89.55 L302.21,89.55 L303.00,89.55 L303.80,89.55 L304.59,89.55 L305.39,89.55 L306.18,89.55 L306.98,89.55 L307.77,89.55 L308.57,89.55 L309.36,89.55 L310.16,89.55 L310.95,89.56 L311.75,89.56 L312.54,89.56 L313.34,89.56 L314.14,89.56 L314.93,89.56 L315.73,89.56 L316.52,89.56 L317.32,89.56 L318.11,89.56 L318.91,89.56 L319.70,89.56 L320.50,89.56 L321.29,89.56 L322.09,89.56 L322.88,89.56 L323.68,89.56 L324.47,89.56 L325.27,89.56 L326.06,89.56 L326.86,89.56 L327.66,89.56 L328.45,89.57 L329.25,89.57 L330.04,89.57 L330.84,89.57 L331.63,89.57 L332.43,89.57 L333.22,89.57 L334.02,89.57 L334.81,89.57 L335.61,89.57 L336.40,89.57 L337.20,89.57 L337.99,89.57 L338.79,89.57 L339.58,89.57 L340.38,89.57 L341.18,89.57 L341.97,89.57 L342.77,89.57 L343.56,89.57 L344.36,89.57 L345.15,89.57 L345.95,89.57 L346.74,89.57 L347.54,89.57 L348.33,89.57 L349.13,89.57 L349.92,89.57 L350.72,89.57 L351.51,89.57 L352.31,89.57 L353.11,89.57 L353.90,89.57 L354.70,89.57 L355.49,89.57 L356.29,89.57 L357.08,89.57 L357.88,89.57 L358.67,89.57 L359.47,89.57 L360.26,89.57 L361.06,89.57 L361.85,89.57 L362.65,89.57 L363.44,89.57 L364.24,89.57 L365.03,89.57 L365.83,89.57 L366.63,89.57 L367.42,89.57 L368.22,89.57 L369.01,89.57 L369.81,89.57 L370.60,89.57 L371.40,89.57 L372.19,89.57 L372.99,89.57 L373.78,89.57 L374.58,89.57 L375.37,89.57 L376.17,89.57 L376.96,89.57 L377.76,89.57 L378.55,89.57 L379.35,89.57 L380.15,89.57 L380.94,89.57 L381.74,89.57 L382.53,89.57 L383.33,89.57 L384.12,89.57 L384.92,89.57 L385.71,89.57 L386.51,89.57 L387.30,89.57 L388.10,89.57 L388.89,89.57 L389.69,89.57 L390.48,89.57 L391.28,89.57 L392.07,89.57 L392.87,89.57 L393.67,89.57 L394.46,89.57 L395.26,89.57 L396.05,89.57 L396.85,89.57 L397.64,89.57 L398.44,89.57 L399.23,89.57 L400.03,89.57 L400.82,89.57 L401.62,89.57 L402.41,89.57 L403.21,89.57 L404.00,89.57 L404.80,89.57 L405.59,89.57 L406.39,89.57 L407.19,89.57 L407.98,89.57 L408.78,89.57 L409.57,89.57 L410.37,89.57 L411.16,89.57 L411.96,89.57 L412.75,89.57 L413.55,89.57 L414.34,89.57 L415.14,89.57 L415.93,89.57 L416.73,89.57 L417.52,89.57 L418.32,89.57 L419.11,89.57 L419.91,89.57 L420.71,89.57 L421.50,89.57 L422.30,89.57 L423.09,89.57 L423.89,89.57 L424.68,89.57 L425.48,89.57 L426.27,89.57 L427.07,89.57 L427.86,89.57 L428.66,89.57 L429.45,89.57 L430.25,89.57 L431.04,89.57 L431.84,89.57 L432.63,89.57 L433.43,89.57 L434.23,89.57 L435.02,89.57 L435.82,89.57 L436.61,89.57 L437.41,89.57 L438.20,89.57 L439.00,89.57 L439.79,89.57 L440.59,89.57 L441.38,89.57 L442.18,89.57 L442.97,89.57 L443.77,89.57 L444.56,89.57 L445.36,89.57 L446.16,89.57 L446.95,89.57 L447.75,89.57 L448.54,89.57 L449.34,89.57 L450.13,89.57 L450.93,89.57 L451.72,89.57 L452.52,89.57 L453.31,89.57 L454.11,89.57 L454.90,89.57 L455.70,89.57 L456.49,89.57 L457.29,89.57 L458.08,89.57 L458.88,89.57 L459.68,89.57 L460.47,89.57 L461.27,89.57 L462.06,89.57 L462.86,89.57 L463.65,89.57 L464.45,89.57 L465.24,89.57 L466.04,89.57 L466.83,89.57 L467.63,89.57 L468.42,89.57 L469.22,89.57 L470.01,89.57 L470.81,89.57 L471.60,89.57 L472.40,89.57" fill="none" stroke="#000" stroke-width="1.65" stroke-linejoin="round"/><path d="M74.75,256.33 L75.55,250.42 L76.34,245.19 L77.14,240.11 L77.93,235.22 L78.73,230.52 L79.52,226.04 L80.32,221.79 L81.11,217.79 L81.91,214.04 L82.70,210.56 L83.50,207.33 L84.29,204.33 L85.09,201.56 L85.88,198.98 L86.68,196.55 L87.47,194.26 L88.27,192.06 L89.07,189.95 L89.86,187.89 L90.66,185.88 L91.45,183.91 L92.25,181.96 L93.04,180.04 L93.84,178.13 L94.63,176.22 L95.43,174.32 L96.22,172.42 L97.02,170.52 L97.81,168.63 L98.61,166.76 L99.40,164.92 L100.20,163.11 L100.99,161.35 L101.79,159.64 L102.59,157.99 L103.38,156.39 L104.18,154.85 L104.97,153.37 L105.77,151.94 L106.56,150.56 L107.36,149.23 L108.15,147.94 L108.95,146.69 L109.74,145.47 L110.54,144.29 L111.33,143.13 L112.13,142.00 L112.92,140.90 L113.72,139.82 L114.52,138.76 L115.31,137.73 L116.11,136.72 L116.90,135.74 L117.70,134.78 L118.49,133.85 L119.29,132.95 L120.08,132.07 L120.88,131.23 L121.67,130.41 L122.47,129.62 L123.26,128.86 L124.06,128.14 L124.85,127.44 L125.65,126.77 L126.44,126.14 L127.24,125.53 L128.04,124.95 L128.83,124.39 L129.63,123.87 L130.42,123.36 L131.22,122.88 L132.01,122.43 L132.81,121.99 L133.60,121.57 L134.40,121.17 L135.19,120.78 L135.99,120.41 L136.78,120.06 L137.58,119.71 L138.37,119.38 L139.17,119.06 L139.96,118.75 L140.76,118.45 L141.56,118.15 L142.35,117.87 L143.15,117.59 L143.94,117.31 L144.74,117.05 L145.53,116.79 L146.33,116.53 L147.12,116.28 L147.92,116.04 L148.71,115.80 L149.51,115.57 L150.30,115.34 L151.10,115.12 L151.89,114.90 L152.69,114.69 L153.48,114.48 L154.28,114.28 L155.08,114.08 L155.87,113.89 L156.67,113.70 L157.46,113.52 L158.26,113.34 L159.05,113.17 L159.85,113.00 L160.64,112.84 L161.44,112.68 L162.23,112.53 L163.03,112.39 L163.82,112.25 L164.62,112.11 L165.41,111.98 L166.21,111.85 L167.00,111.73 L167.80,111.61 L168.60,111.49 L169.39,111.38 L170.19,111.28 L170.98,111.18 L171.78,111.08 L172.57,110.98 L173.37,110.89 L174.16,110.81 L174.96,110.72 L175.75,110.64 L176.55,110.56 L177.34,110.49 L178.14,110.42 L178.93,110.35 L179.73,110.28 L180.52,110.22 L181.32,110.15 L182.12,110.09 L182.91,110.03 L183.71,109.98 L184.50,109.92 L185.30,109.87 L186.09,109.82 L186.89,109.77 L187.68,109.72 L188.48,109.67 L189.27,109.63 L190.07,109.58 L190.86,109.54 L191.66,109.50 L192.45,109.45 L193.25,109.41 L194.05,109.37 L194.84,109.34 L195.64,109.30 L196.43,109.26 L197.23,109.23 L198.02,109.19 L198.82,109.16 L199.61,109.12 L200.41,109.09 L201.20,109.06 L202.00,109.02 L202.79,108.99 L203.59,108.96 L204.38,108.93 L205.18,108.90 L205.97,108.87 L206.77,108.84 L207.57,108.81 L208.36,108.78 L209.16,108.76 L209.95,108.73 L210.75,108.70 L211.54,108.67 L212.34,108.65 L213.13,108.62 L213.93,108.60 L214.72,108.57 L215.52,108.54 L216.31,108.52 L217.11,108.50 L217.90,108.47 L218.70,108.45 L219.49,108.42 L220.29,108.40 L221.09,108.38 L221.88,108.36 L222.68,108.33 L223.47,108.31 L224.27,108.29 L225.06,108.27 L225.86,108.25 L226.65,108.23 L227.45,108.21 L228.24,108.19 L229.04,108.17 L229.83,108.15 L230.63,108.13 L231.42,108.11 L232.22,108.09 L233.01,108.07 L233.81,108.06 L234.61,108.04 L235.40,108.02 L236.20,108.01 L236.99,107.99 L237.79,107.97 L238.58,107.96 L239.38,107.94 L240.17,107.93 L240.97,107.91 L241.76,107.90 L242.56,107.89 L243.35,107.87 L244.15,107.86 L244.94,107.85 L245.74,107.83 L246.53,107.82 L247.33,107.81 L248.13,107.80 L248.92,107.79 L249.72,107.77 L250.51,107.76 L251.31,107.75 L252.10,107.74 L252.90,107.73 L253.69,107.72 L254.49,107.71 L255.28,107.70 L256.08,107.69 L256.87,107.69 L257.67,107.68 L258.46,107.67 L259.26,107.66 L260.05,107.65 L260.85,107.65 L261.65,107.64 L262.44,107.63 L263.24,107.62 L264.03,107.62 L264.83,107.61 L265.62,107.60 L266.42,107.60 L267.21,107.59 L268.01,107.59 L268.80,107.58 L269.60,107.57 L270.39,107.57 L271.19,107.56 L271.98,107.56 L272.78,107.55 L273.57,107.55 L274.37,107.55 L275.17,107.54 L275.96,107.54 L276.76,107.53 L277.55,107.53 L278.35,107.53 L279.14,107.52 L279.94,107.52 L280.73,107.51 L281.53,107.51 L282.32,107.51 L283.12,107.51 L283.91,107.50 L284.71,107.50 L285.50,107.50 L286.30,107.49 L287.10,107.49 L287.89,107.49 L288.69,107.49 L289.48,107.48 L290.28,107.48 L291.07,107.48 L291.87,107.48 L292.66,107.48 L293.46,107.47 L294.25,107.47 L295.05,107.47 L295.84,107.47 L296.64,107.47 L297.43,107.47 L298.23,107.46 L299.02,107.46 L299.82,107.46 L300.62,107.46 L301.41,107.46 L302.21,107.46 L303.00,107.46 L303.80,107.45 L304.59,107.45 L305.39,107.45 L306.18,107.45 L306.98,107.45 L307.77,107.45 L308.57,107.45 L309.36,107.45 L310.16,107.45 L310.95,107.45 L311.75,107.45 L312.54,107.45 L313.34,107.44 L314.14,107.44 L314.93,107.44 L315.73,107.44 L316.52,107.44 L317.32,107.44 L318.11,107.44 L318.91,107.44 L319.70,107.44 L320.50,107.44 L321.29,107.44 L322.09,107.44 L322.88,107.44 L323.68,107.44 L324.47,107.44 L325.27,107.44 L326.06,107.44 L326.86,107.44 L327.66,107.44 L328.45,107.44 L329.25,107.44 L330.04,107.44 L330.84,107.44 L331.63,107.44 L332.43,107.44 L333.22,107.44 L334.02,107.44 L334.81,107.44 L335.61,107.44 L336.40,107.44 L337.20,107.44 L337.99,107.44 L338.79,107.44 L339.58,107.44 L340.38,107.44 L341.18,107.44 L341.97,107.44 L342.77,107.44 L343.56,107.44 L344.36,107.44 L345.15,107.44 L345.95,107.44 L346.74,107.44 L347.54,107.44 L348.33,107.44 L349.13,107.44 L349.92,107.44 L350.72,107.44 L351.51,107.44 L352.31,107.44 L353.11,107.44 L353.90,107.44 L354.70,107.44 L355.49,107.44 L356.29,107.44 L357.08,107.44 L357.88,107.44 L358.67,107.44 L359.47,107.44 L360.26,107.44 L361.06,107.44 L361.85,107.44 L362.65,107.44 L363.44,107.44 L364.24,107.44 L365.03,107.44 L365.83,107.44 L366.63,107.44 L367.42,107.44 L368.22,107.44 L369.01,107.44 L369.81,107.44 L370.60,107.44 L371.40,107.44 L372.19,107.44 L372.99,107.45 L373.78,107.45 L374.58,107.45 L375.37,107.45 L376.17,107.45 L376.96,107.45 L377.76,107.45 L378.55,107.45 L379.35,107.45 L380.15,107.45 L380.94,107.45 L381.74,107.45 L382.53,107.45 L383.33,107.45 L384.12,107.45 L384.92,107.45 L385.71,107.45 L386.51,107.45 L387.30,107.45 L388.10,107.45 L388.89,107.45 L389.69,107.45 L390.48,107.45 L391.28,107.46 L392.07,107.46 L392.87,107.46 L393.67,107.46 L394.46,107.46 L395.26,107.46 L396.05,107.46 L396.85,107.46 L397.64,107.46 L398.44,107.46 L399.23,107.46 L400.03,107.46 L400.82,107.46 L401.62,107.46 L402.41,107.46 L403.21,107.46 L404.00,107.46 L404.80,107.46 L405.59,107.46 L406.39,107.47 L407.19,107.47 L407.98,107.47 L408.78,107.47 L409.57,107.47 L410.37,107.47 L411.16,107.47 L411.96,107.47 L412.75,107.47 L413.55,107.47 L414.34,107.47 L415.14,107.47 L415.93,107.47 L416.73,107.47 L417.52,107.47 L418.32,107.47 L419.11,107.47 L419.91,107.48 L420.71,107.48 L421.50,107.48 L422.30,107.48 L423.09,107.48 L423.89,107.48 L424.68,107.48 L425.48,107.48 L426.27,107.48 L427.07,107.48 L427.86,107.48 L428.66,107.48 L429.45,107.48 L430.25,107.48 L431.04,107.48 L431.84,107.48 L432.63,107.49 L433.43,107.49 L434.23,107.49 L435.02,107.49 L435.82,107.49 L436.61,107.49 L437.41,107.49 L438.20,107.49 L439.00,107.49 L439.79,107.49 L440.59,107.49 L441.38,107.49 L442.18,107.49 L442.97,107.49 L443.77,107.49 L444.56,107.49 L445.36,107.49 L446.16,107.50 L446.95,107.50 L447.75,107.50 L448.54,107.50 L449.34,107.50 L450.13,107.50 L450.93,107.50 L451.72,107.50 L452.52,107.50 L453.31,107.50 L454.11,107.50 L454.90,107.50 L455.70,107.50 L456.49,107.50 L457.29,107.50 L458.08,107.50 L458.88,107.50 L459.68,107.50 L460.47,107.51 L461.27,107.51 L462.06,107.51 L462.86,107.51 L463.65,107.51 L464.45,107.51 L465.24,107.51 L466.04,107.51 L466.83,107.51 L467.63,107.51 L468.42,107.51 L469.22,107.51 L470.01,107.51 L470.81,107.51 L471.60,107.51 L472.40,107.51" fill="none" stroke="#000" stroke-width="1.65" stroke-linejoin="round"/><path d="M74.75,258.48 L75.55,253.52 L76.34,249.08 L77.14,244.74 L77.93,240.54 L78.73,236.47 L79.52,232.54 L80.32,228.78 L81.11,225.20 L81.91,221.79 L82.70,218.57 L83.50,215.53 L84.29,212.68 L85.09,209.99 L85.88,207.47 L86.68,205.10 L87.47,202.87 L88.27,200.75 L89.07,198.73 L89.86,196.78 L90.66,194.89 L91.45,193.05 L92.25,191.24 L93.04,189.47 L93.84,187.72 L94.63,186.00 L95.43,184.32 L96.22,182.68 L97.02,181.07 L97.81,179.52 L98.61,178.01 L99.40,176.54 L100.20,175.10 L100.99,173.71 L101.79,172.35 L102.59,171.02 L103.38,169.71 L104.18,168.43 L104.97,167.17 L105.77,165.92 L106.56,164.70 L107.36,163.50 L108.15,162.33 L108.95,161.17 L109.74,160.05 L110.54,158.96 L111.33,157.90 L112.13,156.87 L112.92,155.88 L113.72,154.92 L114.52,154.00 L115.31,153.12 L116.11,152.26 L116.90,151.45 L117.70,150.66 L118.49,149.91 L119.29,149.19 L120.08,148.50 L120.88,147.84 L121.67,147.20 L122.47,146.60 L123.26,146.01 L124.06,145.46 L124.85,144.92 L125.65,144.41 L126.44,143.92 L127.24,143.45 L128.04,143.00 L128.83,142.57 L129.63,142.16 L130.42,141.76 L131.22,141.38 L132.01,141.01 L132.81,140.65 L133.60,140.31 L134.40,139.99 L135.19,139.67 L135.99,139.36 L136.78,139.07 L137.58,138.79 L138.37,138.51 L139.17,138.25 L139.96,137.99 L140.76,137.75 L141.56,137.51 L142.35,137.28 L143.15,137.06 L143.94,136.84 L144.74,136.64 L145.53,136.44 L146.33,136.24 L147.12,136.06 L147.92,135.88 L148.71,135.71 L149.51,135.54 L150.30,135.38 L151.10,135.22 L151.89,135.07 L152.69,134.93 L153.48,134.79 L154.28,134.66 L155.08,134.53 L155.87,134.40 L156.67,134.28 L157.46,134.17 L158.26,134.05 L159.05,133.95 L159.85,133.84 L160.64,133.74 L161.44,133.64 L162.23,133.55 L163.03,133.46 L163.82,133.37 L164.62,133.29 L165.41,133.21 L166.21,133.13 L167.00,133.05 L167.80,132.98 L168.60,132.91 L169.39,132.84 L170.19,132.78 L170.98,132.72 L171.78,132.66 L172.57,132.60 L173.37,132.54 L174.16,132.49 L174.96,132.44 L175.75,132.39 L176.55,132.35 L177.34,132.31 L178.14,132.26 L178.93,132.23 L179.73,132.19 L180.52,132.15 L181.32,132.12 L182.12,132.09 L182.91,132.06 L183.71,132.04 L184.50,132.01 L185.30,131.99 L186.09,131.97 L186.89,131.95 L187.68,131.94 L188.48,131.92 L189.27,131.91 L190.07,131.90 L190.86,131.89 L191.66,131.88 L192.45,131.87 L193.25,131.86 L194.05,131.86 L194.84,131.85 L195.64,131.85 L196.43,131.85 L197.23,131.85 L198.02,131.84 L198.82,131.84 L199.61,131.85 L200.41,131.85 L201.20,131.85 L202.00,131.85 L202.79,131.85 L203.59,131.86 L204.38,131.86 L205.18,131.87 L205.97,131.87 L206.77,131.87 L207.57,131.88 L208.36,131.88 L209.16,131.89 L209.95,131.89 L210.75,131.90 L211.54,131.90 L212.34,131.91 L213.13,131.91 L213.93,131.92 L214.72,131.92 L215.52,131.93 L216.31,131.93 L217.11,131.94 L217.90,131.94 L218.70,131.94 L219.49,131.95 L220.29,131.95 L221.09,131.96 L221.88,131.96 L222.68,131.96 L223.47,131.96 L224.27,131.97 L225.06,131.97 L225.86,131.97 L226.65,131.97 L227.45,131.98 L228.24,131.98 L229.04,131.98 L229.83,131.98 L230.63,131.98 L231.42,131.98 L232.22,131.98 L233.01,131.98 L233.81,131.98 L234.61,131.98 L235.40,131.98 L236.20,131.98 L236.99,131.98 L237.79,131.98 L238.58,131.98 L239.38,131.98 L240.17,131.98 L240.97,131.98 L241.76,131.98 L242.56,131.97 L243.35,131.97 L244.15,131.97 L244.94,131.97 L245.74,131.97 L246.53,131.96 L247.33,131.96 L248.13,131.96 L248.92,131.95 L249.72,131.95 L250.51,131.95 L251.31,131.95 L252.10,131.94 L252.90,131.94 L253.69,131.94 L254.49,131.93 L255.28,131.93 L256.08,131.92 L256.87,131.92 L257.67,131.92 L258.46,131.91 L259.26,131.91 L260.05,131.90 L260.85,131.90 L261.65,131.90 L262.44,131.89 L263.24,131.89 L264.03,131.88 L264.83,131.88 L265.62,131.87 L266.42,131.87 L267.21,131.86 L268.01,131.86 L268.80,131.85 L269.60,131.85 L270.39,131.84 L271.19,131.84 L271.98,131.83 L272.78,131.83 L273.57,131.83 L274.37,131.82 L275.17,131.82 L275.96,131.81 L276.76,131.81 L277.55,131.80 L278.35,131.80 L279.14,131.79 L279.94,131.79 L280.73,131.78 L281.53,131.78 L282.32,131.77 L283.12,131.77 L283.91,131.77 L284.71,131.76 L285.50,131.76 L286.30,131.75 L287.10,131.75 L287.89,131.75 L288.69,131.74 L289.48,131.74 L290.28,131.73 L291.07,131.73 L291.87,131.73 L292.66,131.72 L293.46,131.72 L294.25,131.72 L295.05,131.71 L295.84,131.71 L296.64,131.71 L297.43,131.70 L298.23,131.70 L299.02,131.70 L299.82,131.69 L300.62,131.69 L301.41,131.69 L302.21,131.69 L303.00,131.68 L303.80,131.68 L304.59,131.68 L305.39,131.68 L306.18,131.67 L306.98,131.67 L307.77,131.67 L308.57,131.67 L309.36,131.66 L310.16,131.66 L310.95,131.66 L311.75,131.66 L312.54,131.66 L313.34,131.66 L314.14,131.65 L314.93,131.65 L315.73,131.65 L316.52,131.65 L317.32,131.65 L318.11,131.65 L318.91,131.65 L319.70,131.64 L320.50,131.64 L321.29,131.64 L322.09,131.64 L322.88,131.64 L323.68,131.64 L324.47,131.64 L325.27,131.64 L326.06,131.64 L326.86,131.64 L327.66,131.63 L328.45,131.63 L329.25,131.63 L330.04,131.63 L330.84,131.63 L331.63,131.63 L332.43,131.63 L333.22,131.63 L334.02,131.63 L334.81,131.63 L335.61,131.63 L336.40,131.63 L337.20,131.63 L337.99,131.63 L338.79,131.63 L339.58,131.63 L340.38,131.63 L341.18,131.63 L341.97,131.63 L342.77,131.63 L343.56,131.63 L344.36,131.63 L345.15,131.63 L345.95,131.63 L346.74,131.63 L347.54,131.63 L348.33,131.63 L349.13,131.63 L349.92,131.63 L350.72,131.63 L351.51,131.63 L352.31,131.63 L353.11,131.63 L353.90,131.63 L354.70,131.63 L355.49,131.63 L356.29,131.63 L357.08,131.63 L357.88,131.63 L358.67,131.63 L359.47,131.63 L360.26,131.63 L361.06,131.63 L361.85,131.63 L362.65,131.63 L363.44,131.63 L364.24,131.63 L365.03,131.63 L365.83,131.63 L366.63,131.63 L367.42,131.63 L368.22,131.63 L369.01,131.63 L369.81,131.63 L370.60,131.63 L371.40,131.63 L372.19,131.63 L372.99,131.63 L373.78,131.63 L374.58,131.63 L375.37,131.63 L376.17,131.64 L376.96,131.64 L377.76,131.64 L378.55,131.64 L379.35,131.64 L380.15,131.64 L380.94,131.64 L381.74,131.64 L382.53,131.64 L383.33,131.64 L384.12,131.64 L384.92,131.64 L385.71,131.64 L386.51,131.64 L387.30,131.64 L388.10,131.64 L388.89,131.64 L389.69,131.64 L390.48,131.64 L391.28,131.65 L392.07,131.65 L392.87,131.65 L393.67,131.65 L394.46,131.65 L395.26,131.65 L396.05,131.65 L396.85,131.65 L397.64,131.65 L398.44,131.65 L399.23,131.65 L400.03,131.65 L400.82,131.65 L401.62,131.65 L402.41,131.65 L403.21,131.65 L404.00,131.66 L404.80,131.66 L405.59,131.66 L406.39,131.66 L407.19,131.66 L407.98,131.66 L408.78,131.66 L409.57,131.66 L410.37,131.66 L411.16,131.66 L411.96,131.66 L412.75,131.66 L413.55,131.66 L414.34,131.66 L415.14,131.66 L415.93,131.67 L416.73,131.67 L417.52,131.67 L418.32,131.67 L419.11,131.67 L419.91,131.67 L420.71,131.67 L421.50,131.67 L422.30,131.67 L423.09,131.67 L423.89,131.67 L424.68,131.67 L425.48,131.67 L426.27,131.68 L427.07,131.68 L427.86,131.68 L428.66,131.68 L429.45,131.68 L430.25,131.68 L431.04,131.68 L431.84,131.68 L432.63,131.68 L433.43,131.68 L434.23,131.68 L435.02,131.68 L435.82,131.68 L436.61,131.68 L437.41,131.69 L438.20,131.69 L439.00,131.69 L439.79,131.69 L440.59,131.69 L441.38,131.69 L442.18,131.69 L442.97,131.69 L443.77,131.69 L444.56,131.69 L445.36,131.69 L446.16,131.69 L446.95,131.69 L447.75,131.69 L448.54,131.70 L449.34,131.70 L450.13,131.70 L450.93,131.70 L451.72,131.70 L452.52,131.70 L453.31,131.70 L454.11,131.70 L454.90,131.70 L455.70,131.70 L456.49,131.70 L457.29,131.70 L458.08,131.70 L458.88,131.70 L459.68,131.70 L460.47,131.71 L461.27,131.71 L462.06,131.71 L462.86,131.71 L463.65,131.71 L464.45,131.71 L465.24,131.71 L466.04,131.71 L466.83,131.71 L467.63,131.71 L468.42,131.71 L469.22,131.71 L470.01,131.71 L470.81,131.71 L471.60,131.71 L472.40,131.71" fill="none" stroke="#000" stroke-width="1.65" stroke-linejoin="round"/><path d="M74.75,260.63 L75.55,256.65 L76.34,253.11 L77.14,249.67 L77.93,246.35 L78.73,243.16 L79.52,240.10 L80.32,237.17 L81.11,234.35 L81.91,231.61 L82.70,228.94 L83.50,226.32 L84.29,223.76 L85.09,221.26 L85.88,218.84 L86.68,216.53 L87.47,214.34 L88.27,212.28 L89.07,210.36 L89.86,208.57 L90.66,206.88 L91.45,205.28 L92.25,203.74 L93.04,202.24 L93.84,200.78 L94.63,199.33 L95.43,197.91 L96.22,196.50 L97.02,195.11 L97.81,193.74 L98.61,192.41 L99.40,191.11 L100.20,189.84 L100.99,188.62 L101.79,187.43 L102.59,186.29 L103.38,185.19 L104.18,184.14 L104.97,183.13 L105.77,182.18 L106.56,181.27 L107.36,180.42 L108.15,179.61 L108.95,178.86 L109.74,178.14 L110.54,177.47 L111.33,176.84 L112.13,176.25 L112.92,175.68 L113.72,175.14 L114.52,174.62 L115.31,174.13 L116.11,173.64 L116.90,173.17 L117.70,172.70 L118.49,172.25 L119.29,171.80 L120.08,171.35 L120.88,170.91 L121.67,170.48 L122.47,170.05 L123.26,169.62 L124.06,169.20 L124.85,168.79 L125.65,168.39 L126.44,168.00 L127.24,167.62 L128.04,167.25 L128.83,166.90 L129.63,166.56 L130.42,166.23 L131.22,165.92 L132.01,165.63 L132.81,165.35 L133.60,165.08 L134.40,164.83 L135.19,164.60 L135.99,164.38 L136.78,164.18 L137.58,163.99 L138.37,163.81 L139.17,163.65 L139.96,163.49 L140.76,163.35 L141.56,163.22 L142.35,163.10 L143.15,162.98 L143.94,162.88 L144.74,162.78 L145.53,162.69 L146.33,162.60 L147.12,162.52 L147.92,162.45 L148.71,162.38 L149.51,162.31 L150.30,162.25 L151.10,162.19 L151.89,162.14 L152.69,162.08 L153.48,162.03 L154.28,161.98 L155.08,161.93 L155.87,161.88 L156.67,161.84 L157.46,161.79 L158.26,161.75 L159.05,161.70 L159.85,161.66 L160.64,161.62 L161.44,161.58 L162.23,161.53 L163.03,161.49 L163.82,161.45 L164.62,161.41 L165.41,161.37 L166.21,161.33 L167.00,161.29 L167.80,161.24 L168.60,161.20 L169.39,161.16 L170.19,161.12 L170.98,161.08 L171.78,161.05 L172.57,161.01 L173.37,160.97 L174.16,160.93 L174.96,160.89 L175.75,160.86 L176.55,160.82 L177.34,160.79 L178.14,160.75 L178.93,160.72 L179.73,160.68 L180.52,160.65 L181.32,160.62 L182.12,160.59 L182.91,160.56 L183.71,160.53 L184.50,160.50 L185.30,160.48 L186.09,160.45 L186.89,160.43 L187.68,160.40 L188.48,160.38 L189.27,160.36 L190.07,160.33 L190.86,160.31 L191.66,160.30 L192.45,160.28 L193.25,160.26 L194.05,160.24 L194.84,160.23 L195.64,160.21 L196.43,160.20 L197.23,160.19 L198.02,160.17 L198.82,160.16 L199.61,160.15 L200.41,160.14 L201.20,160.13 L202.00,160.12 L202.79,160.11 L203.59,160.11 L204.38,160.10 L205.18,160.09 L205.97,160.08 L206.77,160.08 L207.57,160.07 L208.36,160.07 L209.16,160.06 L209.95,160.06 L210.75,160.06 L211.54,160.05 L212.34,160.05 L213.13,160.04 L213.93,160.04 L214.72,160.04 L215.52,160.04 L216.31,160.03 L217.11,160.03 L217.90,160.03 L218.70,160.03 L219.49,160.03 L220.29,160.03 L221.09,160.02 L221.88,160.02 L222.68,160.02 L223.47,160.02 L224.27,160.02 L225.06,160.02 L225.86,160.02 L226.65,160.02 L227.45,160.02 L228.24,160.01 L229.04,160.01 L229.83,160.01 L230.63,160.01 L231.42,160.01 L232.22,160.01 L233.01,160.01 L233.81,160.01 L234.61,160.01 L235.40,160.01 L236.20,160.01 L236.99,160.01 L237.79,160.01 L238.58,160.01 L239.38,160.01 L240.17,160.01 L240.97,160.01 L241.76,160.00 L242.56,160.00 L243.35,160.00 L244.15,160.00 L244.94,160.00 L245.74,160.00 L246.53,160.00 L247.33,160.00 L248.13,160.00 L248.92,160.00 L249.72,160.00 L250.51,160.00 L251.31,160.00 L252.10,160.00 L252.90,160.00 L253.69,160.00 L254.49,160.00 L255.28,160.00 L256.08,159.99 L256.87,159.99 L257.67,159.99 L258.46,159.99 L259.26,159.99 L260.05,159.99 L260.85,159.99 L261.65,159.99 L262.44,159.99 L263.24,159.99 L264.03,159.99 L264.83,159.99 L265.62,159.99 L266.42,159.99 L267.21,159.98 L268.01,159.98 L268.80,159.98 L269.60,159.98 L270.39,159.98 L271.19,159.98 L271.98,159.98 L272.78,159.98 L273.57,159.98 L274.37,159.98 L275.17,159.98 L275.96,159.98 L276.76,159.97 L277.55,159.97 L278.35,159.97 L279.14,159.97 L279.94,159.97 L280.73,159.97 L281.53,159.97 L282.32,159.97 L283.12,159.97 L283.91,159.97 L284.71,159.97 L285.50,159.96 L286.30,159.96 L287.10,159.96 L287.89,159.96 L288.69,159.96 L289.48,159.96 L290.28,159.96 L291.07,159.96 L291.87,159.96 L292.66,159.95 L293.46,159.95 L294.25,159.95 L295.05,159.95 L295.84,159.95 L296.64,159.95 L297.43,159.95 L298.23,159.95 L299.02,159.95 L299.82,159.94 L300.62,159.94 L301.41,159.94 L302.21,159.94 L303.00,159.94 L303.80,159.94 L304.59,159.94 L305.39,159.94 L306.18,159.94 L306.98,159.93 L307.77,159.93 L308.57,159.93 L309.36,159.93 L310.16,159.93 L310.95,159.93 L311.75,159.93 L312.54,159.92 L313.34,159.92 L314.14,159.92 L314.93,159.92 L315.73,159.92 L316.52,159.92 L317.32,159.92 L318.11,159.92 L318.91,159.91 L319.70,159.91 L320.50,159.91 L321.29,159.91 L322.09,159.91 L322.88,159.91 L323.68,159.91 L324.47,159.90 L325.27,159.90 L326.06,159.90 L326.86,159.90 L327.66,159.90 L328.45,159.90 L329.25,159.89 L330.04,159.89 L330.84,159.89 L331.63,159.89 L332.43,159.89 L333.22,159.89 L334.02,159.89 L334.81,159.88 L335.61,159.88 L336.40,159.88 L337.20,159.88 L337.99,159.88 L338.79,159.88 L339.58,159.87 L340.38,159.87 L341.18,159.87 L341.97,159.87 L342.77,159.87 L343.56,159.87 L344.36,159.86 L345.15,159.86 L345.95,159.86 L346.74,159.86 L347.54,159.86 L348.33,159.86 L349.13,159.85 L349.92,159.85 L350.72,159.85 L351.51,159.85 L352.31,159.85 L353.11,159.84 L353.90,159.84 L354.70,159.84 L355.49,159.84 L356.29,159.84 L357.08,159.84 L357.88,159.83 L358.67,159.83 L359.47,159.83 L360.26,159.83 L361.06,159.83 L361.85,159.82 L362.65,159.82 L363.44,159.82 L364.24,159.82 L365.03,159.82 L365.83,159.81 L366.63,159.81 L367.42,159.81 L368.22,159.81 L369.01,159.81 L369.81,159.81 L370.60,159.80 L371.40,159.80 L372.19,159.80 L372.99,159.80 L373.78,159.80 L374.58,159.79 L375.37,159.79 L376.17,159.79 L376.96,159.79 L377.76,159.79 L378.55,159.78 L379.35,159.78 L380.15,159.78 L380.94,159.78 L381.74,159.78 L382.53,159.77 L383.33,159.77 L384.12,159.77 L384.92,159.77 L385.71,159.76 L386.51,159.76 L387.30,159.76 L388.10,159.76 L388.89,159.76 L389.69,159.75 L390.48,159.75 L391.28,159.75 L392.07,159.75 L392.87,159.75 L393.67,159.74 L394.46,159.74 L395.26,159.74 L396.05,159.74 L396.85,159.74 L397.64,159.73 L398.44,159.73 L399.23,159.73 L400.03,159.73 L400.82,159.72 L401.62,159.72 L402.41,159.72 L403.21,159.72 L404.00,159.72 L404.80,159.71 L405.59,159.71 L406.39,159.71 L407.19,159.71 L407.98,159.71 L408.78,159.70 L409.57,159.70 L410.37,159.70 L411.16,159.70 L411.96,159.69 L412.75,159.69 L413.55,159.69 L414.34,159.69 L415.14,159.69 L415.93,159.68 L416.73,159.68 L417.52,159.68 L418.32,159.68 L419.11,159.68 L419.91,159.67 L420.71,159.67 L421.50,159.67 L422.30,159.67 L423.09,159.67 L423.89,159.66 L424.68,159.66 L425.48,159.66 L426.27,159.66 L427.07,159.66 L427.86,159.65 L428.66,159.65 L429.45,159.65 L430.25,159.65 L431.04,159.65 L431.84,159.64 L432.63,159.64 L433.43,159.64 L434.23,159.64 L435.02,159.64 L435.82,159.63 L436.61,159.63 L437.41,159.63 L438.20,159.63 L439.00,159.63 L439.79,159.62 L440.59,159.62 L441.38,159.62 L442.18,159.62 L442.97,159.62 L443.77,159.62 L444.56,159.61 L445.36,159.61 L446.16,159.61 L446.95,159.61 L447.75,159.61 L448.54,159.61 L449.34,159.60 L450.13,159.60 L450.93,159.60 L451.72,159.60 L452.52,159.60 L453.31,159.60 L454.11,159.59 L454.90,159.59 L455.70,159.59 L456.49,159.59 L457.29,159.59 L458.08,159.59 L458.88,159.58 L459.68,159.58 L460.47,159.58 L461.27,159.58 L462.06,159.58 L462.86,159.58 L463.65,159.58 L464.45,159.57 L465.24,159.57 L466.04,159.57 L466.83,159.57 L467.63,159.57 L468.42,159.57 L469.22,159.57 L470.01,159.57 L470.81,159.56 L471.60,159.56 L472.40,159.56" fill="none" stroke="#000" stroke-width="1.65" stroke-linejoin="round"/></g>
<g><rect x="74.75" y="30.4" width="397.65" height="258.20000000000005" fill="none" stroke="#000" stroke-width="2.75"/><rect x="73.375" y="289.6" width="400.4" height="0.75" fill="#000"/><path d="M74.75,288.6 v-4.6 M74.75,30.4 v4.6" stroke="#000" stroke-width="1.1"/><path d="M154.28,288.6 v-4.6 M154.28,30.4 v4.6" stroke="#000" stroke-width="1.1"/><path d="M233.81,288.6 v-4.6 M233.81,30.4 v4.6" stroke="#000" stroke-width="1.1"/><path d="M313.34,288.6 v-4.6 M313.34,30.4 v4.6" stroke="#000" stroke-width="1.1"/><path d="M392.87,288.6 v-4.6 M392.87,30.4 v4.6" stroke="#000" stroke-width="1.1"/><path d="M472.40,288.6 v-4.6 M472.40,30.4 v4.6" stroke="#000" stroke-width="1.1"/><path d="M74.75,288.60 h4.6 M472.4,288.60 h-4.6" stroke="#000" stroke-width="1.1"/><path d="M74.75,245.57 h4.6 M472.4,245.57 h-4.6" stroke="#000" stroke-width="1.1"/><path d="M74.75,202.53 h4.6 M472.4,202.53 h-4.6" stroke="#000" stroke-width="1.1"/><path d="M74.75,159.50 h4.6 M472.4,159.50 h-4.6" stroke="#000" stroke-width="1.1"/><path d="M74.75,116.47 h4.6 M472.4,116.47 h-4.6" stroke="#000" stroke-width="1.1"/><path d="M74.75,73.43 h4.6 M472.4,73.43 h-4.6" stroke="#000" stroke-width="1.1"/><path d="M74.75,30.40 h4.6 M472.4,30.40 h-4.6" stroke="#000" stroke-width="1.1"/></g>
<g><path d="M407,206.3 H452.8" stroke="#9400d3" stroke-width="1.6"/><circle cx="429.7" cy="206.3" r="3.3" fill="#9400d3"/><path d="M407,223.7 H452.8" stroke="#009e73" stroke-width="1.6"/><circle cx="429.7" cy="223.7" r="3.3" fill="#009e73"/><path d="M407,241.1 H452.8" stroke="#56b4e9" stroke-width="1.6"/><circle cx="429.7" cy="241.1" r="3.3" fill="#56b4e9"/><path d="M407,258.5 H452.8" stroke="#ff0000" stroke-width="1.6"/><circle cx="429.7" cy="258.5" r="3.3" fill="#ff0000"/><path d="M407,275.9 H452.8" stroke="#0000ff" stroke-width="1.6"/><circle cx="429.7" cy="275.9" r="3.3" fill="#0000ff"/></g>
<g style="will-change:transform"><text id="t0" transform="translate(65.50,294.80) scale(0.96,1)" text-anchor="end" font-size="18">0</text><text id="t1" transform="translate(65.50,251.77) scale(0.96,1)" text-anchor="end" font-size="18">0.2</text><text id="t2" transform="translate(65.50,208.73) scale(0.96,1)" text-anchor="end" font-size="18">0.4</text><text id="t3" transform="translate(65.50,165.70) scale(0.96,1)" text-anchor="end" font-size="18">0.6</text><text id="t4" transform="translate(65.50,122.67) scale(0.96,1)" text-anchor="end" font-size="18">0.8</text><text id="t5" transform="translate(65.50,79.63) scale(0.96,1)" text-anchor="end" font-size="18">1</text><text id="t6" transform="translate(65.50,36.60) scale(0.96,1)" text-anchor="end" font-size="18">1.2</text><text id="t7" transform="translate(76.95,310.40) scale(0.96,1)" text-anchor="middle" font-size="18">0</text><text id="t8" transform="translate(156.48,310.40) scale(0.96,1)" text-anchor="middle" font-size="18">200</text><text id="t9" transform="translate(236.01,310.40) scale(0.96,1)" text-anchor="middle" font-size="18">400</text><text id="t10" transform="translate(315.54,310.40) scale(0.96,1)" text-anchor="middle" font-size="18">600</text><text id="t11" transform="translate(395.07,310.40) scale(0.96,1)" text-anchor="middle" font-size="18">800</text><text id="t12" transform="translate(474.60,310.40) scale(0.96,1)" text-anchor="middle" font-size="18">1000</text><text id="t13" transform="translate(274.30,51.80) scale(0.96,1)" text-anchor="middle" font-size="18">N=400, L=10 (ρ=4.0)</text><text id="t14" transform="translate(435.60,57.80) scale(0.96,1)" text-anchor="middle" font-size="18">(c)</text><text id="t15" transform="translate(274.20,335.50) scale(0.96,1)" text-anchor="middle" font-size="24">t</text><text transform="translate(17.4,170.3) rotate(-90) scale(0.96,1)" font-size="23.5">v<tspan dy="7.6" font-size="19.2">a</tspan></text><text id="t16" transform="translate(395.50,211.50) scale(0.96,1)" text-anchor="end" font-size="18">=0.1</text><text id="t17" transform="translate(361.60,211.50) scale(1.16,1)" text-anchor="end" font-size="18.5" style="font-family:&quot;Liberation Serif&quot;,serif">η</text><text id="t18" transform="translate(395.50,228.90) scale(0.96,1)" text-anchor="end" font-size="18">=1.0</text><text id="t19" transform="translate(361.60,228.90) scale(1.16,1)" text-anchor="end" font-size="18.5" style="font-family:&quot;Liberation Serif&quot;,serif">η</text><text id="t20" transform="translate(395.50,246.30) scale(0.96,1)" text-anchor="end" font-size="18">=1.5</text><text id="t21" transform="translate(361.60,246.30) scale(1.16,1)" text-anchor="end" font-size="18.5" style="font-family:&quot;Liberation Serif&quot;,serif">η</text><text id="t22" transform="translate(395.50,263.70) scale(0.96,1)" text-anchor="end" font-size="18">=2.0</text><text id="t23" transform="translate(361.60,263.70) scale(1.16,1)" text-anchor="end" font-size="18.5" style="font-family:&quot;Liberation Serif&quot;,serif">η</text><text id="t24" transform="translate(395.50,281.10) scale(0.96,1)" text-anchor="end" font-size="18">=2.5</text><text id="t25" transform="translate(361.60,281.10) scale(1.16,1)" text-anchor="end" font-size="18.5" style="font-family:&quot;Liberation Serif&quot;,serif">η</text><g transform="translate(65.50,79.63) scale(0.96,1)"><rect x="-9.240" y="-2.445" width="3.755" height="3.145" fill="#fff"/><rect x="-3.893" y="-2.445" width="3.615" height="3.145" fill="#fff"/></g><g transform="translate(65.50,36.60) scale(0.96,1)"><rect x="-24.240" y="-2.445" width="3.755" height="3.145" fill="#fff"/><rect x="-18.894" y="-2.445" width="3.615" height="3.145" fill="#fff"/></g><g transform="translate(474.60,310.40) scale(0.96,1)"><rect x="-19.234" y="-2.445" width="3.755" height="3.145" fill="#fff"/><rect x="-13.888" y="-2.445" width="3.615" height="3.145" fill="#fff"/></g><g transform="translate(274.30,51.80) scale(0.96,1)"><rect x="1.401" y="-2.445" width="3.755" height="3.145" fill="#fff"/><rect x="6.747" y="-2.445" width="3.615" height="3.145" fill="#fff"/></g><g transform="translate(395.50,211.50) scale(0.96,1)"><rect x="-9.240" y="-2.445" width="3.755" height="3.145" fill="#fff"/><rect x="-3.893" y="-2.445" width="3.615" height="3.145" fill="#fff"/></g><g transform="translate(395.50,228.90) scale(0.96,1)"><rect x="-24.240" y="-2.445" width="3.755" height="3.145" fill="#fff"/><rect x="-18.894" y="-2.445" width="3.615" height="3.145" fill="#fff"/></g><g transform="translate(395.50,246.30) scale(0.96,1)"><rect x="-24.240" y="-2.445" width="3.755" height="3.145" fill="#fff"/><rect x="-18.894" y="-2.445" width="3.615" height="3.145" fill="#fff"/></g></g>
</svg>
</body></html>
